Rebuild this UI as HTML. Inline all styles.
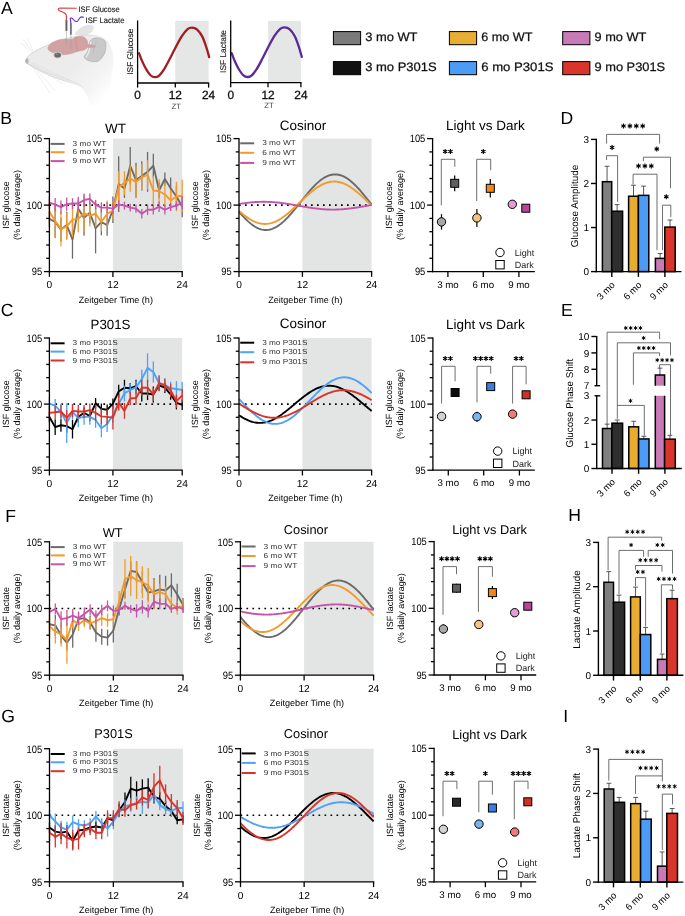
<!DOCTYPE html>
<html><head><meta charset="utf-8"><style>
html,body{margin:0;padding:0;background:#fff;}
svg{display:block;will-change:transform;font-family:"Liberation Sans", sans-serif;}
</style></head><body>
<svg width="685" height="916" viewBox="0 0 685 916" text-rendering="geometricPrecision">
<rect x="0" y="0" width="685" height="916" fill="#fff"/>
<text x="0.9" y="13.8" font-size="17.6" text-anchor="start" fill="#000" >A</text>
<text x="0.3" y="123.8" font-size="17.6" text-anchor="start" fill="#000" >B</text>
<text x="0.7" y="316" font-size="17.6" text-anchor="start" fill="#000" >C</text>
<text x="560.6" y="123.8" font-size="17.6" text-anchor="start" fill="#000" >D</text>
<text x="560.9" y="316" font-size="17.6" text-anchor="start" fill="#000" >E</text>
<text x="5.3" y="521.9" font-size="17.6" text-anchor="start" fill="#000" >F</text>
<text x="1.2" y="722.2" font-size="17.6" text-anchor="start" fill="#000" >G</text>
<text x="568.2" y="521" font-size="17.6" text-anchor="start" fill="#000" >H</text>
<text x="563.3" y="722.2" font-size="17.6" text-anchor="start" fill="#000" >I</text>
<rect x="112.91" y="138.6" width="69.29" height="133" fill="#e3e4e4" stroke="none" stroke-width="1" />
<line x1="49.4" y1="205.1" x2="182.2" y2="205.1" stroke="#000" stroke-width="1.7" stroke-dasharray="1.7 4.3"/>
<line x1="49.4" y1="210.95" x2="49.4" y2="226.91" stroke="#6b6b6b" stroke-width="1.3" />
<line x1="55.17" y1="206.03" x2="55.17" y2="237.95" stroke="#6b6b6b" stroke-width="1.3" />
<line x1="60.95" y1="217.6" x2="60.95" y2="241.54" stroke="#6b6b6b" stroke-width="1.3" />
<line x1="66.72" y1="211.75" x2="66.72" y2="238.35" stroke="#6b6b6b" stroke-width="1.3" />
<line x1="72.5" y1="220.13" x2="72.5" y2="258.7" stroke="#6b6b6b" stroke-width="1.3" />
<line x1="78.27" y1="199.38" x2="78.27" y2="218" stroke="#6b6b6b" stroke-width="1.3" />
<line x1="84.04" y1="199.91" x2="84.04" y2="235.82" stroke="#6b6b6b" stroke-width="1.3" />
<line x1="89.82" y1="202.17" x2="89.82" y2="223.45" stroke="#6b6b6b" stroke-width="1.3" />
<line x1="95.59" y1="202.84" x2="95.59" y2="253.38" stroke="#6b6b6b" stroke-width="1.3" />
<line x1="101.37" y1="208.69" x2="101.37" y2="235.29" stroke="#6b6b6b" stroke-width="1.3" />
<line x1="107.14" y1="214.41" x2="107.14" y2="235.69" stroke="#6b6b6b" stroke-width="1.3" />
<line x1="112.91" y1="196.45" x2="112.91" y2="223.05" stroke="#6b6b6b" stroke-width="1.3" />
<line x1="118.69" y1="156.16" x2="118.69" y2="212.02" stroke="#6b6b6b" stroke-width="1.3" />
<line x1="124.46" y1="179.3" x2="124.46" y2="197.92" stroke="#6b6b6b" stroke-width="1.3" />
<line x1="130.23" y1="147.11" x2="130.23" y2="184.35" stroke="#6b6b6b" stroke-width="1.3" />
<line x1="136.01" y1="162.81" x2="136.01" y2="197.39" stroke="#6b6b6b" stroke-width="1.3" />
<line x1="141.78" y1="161.34" x2="141.78" y2="190.6" stroke="#6b6b6b" stroke-width="1.3" />
<line x1="147.56" y1="151.9" x2="147.56" y2="191.8" stroke="#6b6b6b" stroke-width="1.3" />
<line x1="153.33" y1="153.76" x2="153.33" y2="177.7" stroke="#6b6b6b" stroke-width="1.3" />
<line x1="159.1" y1="182.22" x2="159.1" y2="198.18" stroke="#6b6b6b" stroke-width="1.3" />
<line x1="164.88" y1="172.38" x2="164.88" y2="185.68" stroke="#6b6b6b" stroke-width="1.3" />
<line x1="170.65" y1="177.57" x2="170.65" y2="198.85" stroke="#6b6b6b" stroke-width="1.3" />
<line x1="176.43" y1="185.81" x2="176.43" y2="207.09" stroke="#6b6b6b" stroke-width="1.3" />
<line x1="182.2" y1="196.06" x2="182.2" y2="217.34" stroke="#6b6b6b" stroke-width="1.3" />
<polyline points="49.4,218.93 55.17,221.99 60.95,229.57 66.72,225.05 72.5,239.41 78.27,208.69 84.04,217.87 89.82,212.81 95.59,228.11 101.37,221.99 107.14,225.05 112.91,209.75 118.69,184.09 124.46,188.61 130.23,165.73 136.01,180.1 141.78,175.97 147.56,171.85 153.33,165.73 159.1,190.2 164.88,179.03 170.65,188.21 176.43,196.45 182.2,206.7" fill="none" stroke="#6b6b6b" stroke-width="1.9" stroke-linejoin="round" />
<line x1="49.4" y1="201.11" x2="49.4" y2="222.39" stroke="#f39a2c" stroke-width="1.3" />
<line x1="55.17" y1="203.77" x2="55.17" y2="238.35" stroke="#f39a2c" stroke-width="1.3" />
<line x1="60.95" y1="211.75" x2="60.95" y2="246.33" stroke="#f39a2c" stroke-width="1.3" />
<line x1="66.72" y1="213.08" x2="66.72" y2="239.68" stroke="#f39a2c" stroke-width="1.3" />
<line x1="72.5" y1="202.44" x2="72.5" y2="237.02" stroke="#f39a2c" stroke-width="1.3" />
<line x1="78.27" y1="205.63" x2="78.27" y2="232.23" stroke="#f39a2c" stroke-width="1.3" />
<line x1="84.04" y1="194.46" x2="84.04" y2="231.7" stroke="#f39a2c" stroke-width="1.3" />
<line x1="89.82" y1="205.1" x2="89.82" y2="226.38" stroke="#f39a2c" stroke-width="1.3" />
<line x1="95.59" y1="200.45" x2="95.59" y2="227.05" stroke="#f39a2c" stroke-width="1.3" />
<line x1="101.37" y1="212.68" x2="101.37" y2="231.3" stroke="#f39a2c" stroke-width="1.3" />
<line x1="107.14" y1="200.45" x2="107.14" y2="227.05" stroke="#f39a2c" stroke-width="1.3" />
<line x1="112.91" y1="201.38" x2="112.91" y2="220" stroke="#f39a2c" stroke-width="1.3" />
<line x1="118.69" y1="171.19" x2="118.69" y2="203.11" stroke="#f39a2c" stroke-width="1.3" />
<line x1="124.46" y1="171.18" x2="124.46" y2="195.12" stroke="#f39a2c" stroke-width="1.3" />
<line x1="130.23" y1="165.2" x2="130.23" y2="191.8" stroke="#f39a2c" stroke-width="1.3" />
<line x1="136.01" y1="166.13" x2="136.01" y2="198.05" stroke="#f39a2c" stroke-width="1.3" />
<line x1="141.78" y1="163.87" x2="141.78" y2="190.47" stroke="#f39a2c" stroke-width="1.3" />
<line x1="147.56" y1="160.28" x2="147.56" y2="189.54" stroke="#f39a2c" stroke-width="1.3" />
<line x1="153.33" y1="175.84" x2="153.33" y2="205.1" stroke="#f39a2c" stroke-width="1.3" />
<line x1="159.1" y1="179.3" x2="159.1" y2="203.24" stroke="#f39a2c" stroke-width="1.3" />
<line x1="164.88" y1="182.49" x2="164.88" y2="206.43" stroke="#f39a2c" stroke-width="1.3" />
<line x1="170.65" y1="189.81" x2="170.65" y2="211.09" stroke="#f39a2c" stroke-width="1.3" />
<line x1="176.43" y1="181.82" x2="176.43" y2="211.08" stroke="#f39a2c" stroke-width="1.3" />
<line x1="182.2" y1="179.83" x2="182.2" y2="211.75" stroke="#f39a2c" stroke-width="1.3" />
<polyline points="49.4,211.75 55.17,221.06 60.95,229.04 66.72,226.38 72.5,219.73 78.27,218.93 84.04,213.08 89.82,215.74 95.59,213.75 101.37,221.99 107.14,213.75 112.91,210.69 118.69,187.15 124.46,183.15 130.23,178.5 136.01,182.09 141.78,177.17 147.56,174.91 153.33,190.47 159.1,191.27 164.88,194.46 170.65,200.45 176.43,196.45 182.2,195.79" fill="none" stroke="#f39a2c" stroke-width="1.9" stroke-linejoin="round" />
<line x1="49.4" y1="195.92" x2="49.4" y2="209.22" stroke="#c455a8" stroke-width="1.3" />
<line x1="55.17" y1="197.92" x2="55.17" y2="211.22" stroke="#c455a8" stroke-width="1.3" />
<line x1="60.95" y1="200.58" x2="60.95" y2="213.88" stroke="#c455a8" stroke-width="1.3" />
<line x1="66.72" y1="197.52" x2="66.72" y2="210.82" stroke="#c455a8" stroke-width="1.3" />
<line x1="72.5" y1="198.18" x2="72.5" y2="208.82" stroke="#c455a8" stroke-width="1.3" />
<line x1="78.27" y1="196.85" x2="78.27" y2="210.15" stroke="#c455a8" stroke-width="1.3" />
<line x1="84.04" y1="193.4" x2="84.04" y2="206.7" stroke="#c455a8" stroke-width="1.3" />
<line x1="89.82" y1="193.53" x2="89.82" y2="204.17" stroke="#c455a8" stroke-width="1.3" />
<line x1="95.59" y1="199.91" x2="95.59" y2="209.22" stroke="#c455a8" stroke-width="1.3" />
<line x1="101.37" y1="202.31" x2="101.37" y2="212.95" stroke="#c455a8" stroke-width="1.3" />
<line x1="107.14" y1="202.31" x2="107.14" y2="212.95" stroke="#c455a8" stroke-width="1.3" />
<line x1="112.91" y1="203.37" x2="112.91" y2="214.01" stroke="#c455a8" stroke-width="1.3" />
<line x1="118.69" y1="200.58" x2="118.69" y2="208.56" stroke="#c455a8" stroke-width="1.3" />
<line x1="124.46" y1="201.64" x2="124.46" y2="209.62" stroke="#c455a8" stroke-width="1.3" />
<line x1="130.23" y1="203.64" x2="130.23" y2="211.62" stroke="#c455a8" stroke-width="1.3" />
<line x1="136.01" y1="204.7" x2="136.01" y2="212.68" stroke="#c455a8" stroke-width="1.3" />
<line x1="141.78" y1="209.09" x2="141.78" y2="218.4" stroke="#c455a8" stroke-width="1.3" />
<line x1="147.56" y1="204.43" x2="147.56" y2="215.07" stroke="#c455a8" stroke-width="1.3" />
<line x1="153.33" y1="205.1" x2="153.33" y2="214.41" stroke="#c455a8" stroke-width="1.3" />
<line x1="159.1" y1="201.38" x2="159.1" y2="212.02" stroke="#c455a8" stroke-width="1.3" />
<line x1="164.88" y1="205.1" x2="164.88" y2="214.41" stroke="#c455a8" stroke-width="1.3" />
<line x1="170.65" y1="203.11" x2="170.65" y2="211.09" stroke="#c455a8" stroke-width="1.3" />
<line x1="176.43" y1="201.64" x2="176.43" y2="209.62" stroke="#c455a8" stroke-width="1.3" />
<line x1="182.2" y1="195.92" x2="182.2" y2="209.22" stroke="#c455a8" stroke-width="1.3" />
<polyline points="49.4,202.57 55.17,204.57 60.95,207.23 66.72,204.17 72.5,203.5 78.27,203.5 84.04,200.05 89.82,198.85 95.59,204.57 101.37,207.63 107.14,207.63 112.91,208.69 118.69,204.57 124.46,205.63 130.23,207.63 136.01,208.69 141.78,213.75 147.56,209.75 153.33,209.75 159.1,206.7 164.88,209.75 170.65,207.1 176.43,205.63 182.2,202.57" fill="none" stroke="#c455a8" stroke-width="1.9" stroke-linejoin="round" />
<line x1="49.4" y1="138" x2="49.4" y2="276.9" stroke="#000" stroke-width="1.3" />
<line x1="48.8" y1="271.6" x2="182.8" y2="271.6" stroke="#000" stroke-width="1.3" />
<line x1="43.9" y1="138.6" x2="49.4" y2="138.6" stroke="#000" stroke-width="1.3" />
<line x1="46.2" y1="151.9" x2="49.4" y2="151.9" stroke="#000" stroke-width="1.3" />
<line x1="46.2" y1="165.2" x2="49.4" y2="165.2" stroke="#000" stroke-width="1.3" />
<line x1="46.2" y1="178.5" x2="49.4" y2="178.5" stroke="#000" stroke-width="1.3" />
<line x1="46.2" y1="191.8" x2="49.4" y2="191.8" stroke="#000" stroke-width="1.3" />
<line x1="43.9" y1="205.1" x2="49.4" y2="205.1" stroke="#000" stroke-width="1.3" />
<line x1="46.2" y1="218.4" x2="49.4" y2="218.4" stroke="#000" stroke-width="1.3" />
<line x1="46.2" y1="231.7" x2="49.4" y2="231.7" stroke="#000" stroke-width="1.3" />
<line x1="46.2" y1="245" x2="49.4" y2="245" stroke="#000" stroke-width="1.3" />
<line x1="46.2" y1="258.3" x2="49.4" y2="258.3" stroke="#000" stroke-width="1.3" />
<line x1="43.9" y1="271.6" x2="49.4" y2="271.6" stroke="#000" stroke-width="1.3" />
<line x1="112.91" y1="271.6" x2="112.91" y2="276.9" stroke="#000" stroke-width="1.3" />
<line x1="182.2" y1="271.6" x2="182.2" y2="276.9" stroke="#000" stroke-width="1.3" />
<text x="42.1" y="142.4" font-size="10.6" text-anchor="end" fill="#000" textLength="15.6" lengthAdjust="spacingAndGlyphs" >105</text>
<text x="42.1" y="208.9" font-size="10.6" text-anchor="end" fill="#000" textLength="15.6" lengthAdjust="spacingAndGlyphs" >100</text>
<text x="42.1" y="275.4" font-size="10.6" text-anchor="end" fill="#000" textLength="10.4" lengthAdjust="spacingAndGlyphs" >95</text>
<text x="49.4" y="288.3" font-size="10.2" text-anchor="middle" fill="#000" >0</text>
<text x="112.91" y="288.3" font-size="10.2" text-anchor="middle" fill="#000" >12</text>
<text x="182.2" y="288.3" font-size="10.2" text-anchor="middle" fill="#000" >24</text>
<text x="115.8" y="302.6" font-size="9.1" text-anchor="middle" fill="#000" >Zeitgeber Time (h)</text>
<text x="115.5" y="132.8" font-size="13.5" text-anchor="middle" fill="#000" >WT</text>
<text x="8.8" y="205.1" font-size="9" text-anchor="middle" fill="#000" transform="rotate(-90 8.8 205.1)" >ISF glucose</text>
<text x="19.6" y="205.1" font-size="9" text-anchor="middle" fill="#000" transform="rotate(-90 19.6 205.1)" >(% daily average)</text>
<line x1="50.6" y1="143.9" x2="64.6" y2="143.9" stroke="#6b6b6b" stroke-width="2" />
<text x="72.6" y="146" font-size="7.3" text-anchor="start" fill="#333" textLength="33.7" lengthAdjust="spacingAndGlyphs" >3 mo WT</text>
<line x1="50.6" y1="152.2" x2="64.6" y2="152.2" stroke="#f39a2c" stroke-width="2" />
<text x="72.6" y="154.3" font-size="7.3" text-anchor="start" fill="#333" textLength="33.7" lengthAdjust="spacingAndGlyphs" >6 mo WT</text>
<line x1="50.6" y1="161.1" x2="64.6" y2="161.1" stroke="#c455a8" stroke-width="2" />
<text x="72.6" y="163.2" font-size="7.3" text-anchor="start" fill="#333" textLength="33.7" lengthAdjust="spacingAndGlyphs" >9 mo WT</text>
<rect x="112.91" y="338" width="69.29" height="132.2" fill="#e3e4e4" stroke="none" stroke-width="1" />
<line x1="49.4" y1="404.1" x2="182.2" y2="404.1" stroke="#000" stroke-width="1.7" stroke-dasharray="1.7 4.3"/>
<line x1="49.4" y1="411.64" x2="49.4" y2="422.21" stroke="#000000" stroke-width="1.3" />
<line x1="55.17" y1="419.17" x2="55.17" y2="435.03" stroke="#000000" stroke-width="1.3" />
<line x1="60.95" y1="418.64" x2="60.95" y2="431.86" stroke="#000000" stroke-width="1.3" />
<line x1="66.72" y1="419.57" x2="66.72" y2="432.79" stroke="#000000" stroke-width="1.3" />
<line x1="72.5" y1="419.96" x2="72.5" y2="438.47" stroke="#000000" stroke-width="1.3" />
<line x1="78.27" y1="411.64" x2="78.27" y2="422.21" stroke="#000000" stroke-width="1.3" />
<line x1="84.04" y1="407.54" x2="84.04" y2="418.11" stroke="#000000" stroke-width="1.3" />
<line x1="89.82" y1="410.71" x2="89.82" y2="421.29" stroke="#000000" stroke-width="1.3" />
<line x1="95.59" y1="398.02" x2="95.59" y2="408.59" stroke="#000000" stroke-width="1.3" />
<line x1="101.37" y1="403.57" x2="101.37" y2="414.15" stroke="#000000" stroke-width="1.3" />
<line x1="107.14" y1="404.5" x2="107.14" y2="415.07" stroke="#000000" stroke-width="1.3" />
<line x1="112.91" y1="398.42" x2="112.91" y2="408.99" stroke="#000000" stroke-width="1.3" />
<line x1="118.69" y1="384.8" x2="118.69" y2="398.02" stroke="#000000" stroke-width="1.3" />
<line x1="124.46" y1="379.78" x2="124.46" y2="395.64" stroke="#000000" stroke-width="1.3" />
<line x1="130.23" y1="382.95" x2="130.23" y2="393.52" stroke="#000000" stroke-width="1.3" />
<line x1="136.01" y1="379.64" x2="136.01" y2="392.86" stroke="#000000" stroke-width="1.3" />
<line x1="141.78" y1="385.59" x2="141.78" y2="401.46" stroke="#000000" stroke-width="1.3" />
<line x1="147.56" y1="386.91" x2="147.56" y2="400.13" stroke="#000000" stroke-width="1.3" />
<line x1="153.33" y1="386.52" x2="153.33" y2="402.38" stroke="#000000" stroke-width="1.3" />
<line x1="159.1" y1="380.04" x2="159.1" y2="390.62" stroke="#000000" stroke-width="1.3" />
<line x1="164.88" y1="382.42" x2="164.88" y2="393" stroke="#000000" stroke-width="1.3" />
<line x1="170.65" y1="389.16" x2="170.65" y2="399.74" stroke="#000000" stroke-width="1.3" />
<line x1="176.43" y1="396.17" x2="176.43" y2="409.39" stroke="#000000" stroke-width="1.3" />
<line x1="182.2" y1="399.47" x2="182.2" y2="410.05" stroke="#000000" stroke-width="1.3" />
<polyline points="49.4,416.92 55.17,427.1 60.95,425.25 66.72,426.18 72.5,429.22 78.27,416.92 84.04,412.83 89.82,416 95.59,403.31 101.37,408.86 107.14,409.78 112.91,403.7 118.69,391.41 124.46,387.71 130.23,388.24 136.01,386.25 141.78,393.52 147.56,393.52 153.33,394.45 159.1,385.33 164.88,387.71 170.65,394.45 176.43,402.78 182.2,404.76" fill="none" stroke="#000000" stroke-width="1.9" stroke-linejoin="round" />
<line x1="49.4" y1="397.09" x2="49.4" y2="410.31" stroke="#4da3f7" stroke-width="1.3" />
<line x1="55.17" y1="399.08" x2="55.17" y2="412.3" stroke="#4da3f7" stroke-width="1.3" />
<line x1="60.95" y1="403.97" x2="60.95" y2="419.83" stroke="#4da3f7" stroke-width="1.3" />
<line x1="66.72" y1="403.31" x2="66.72" y2="442.97" stroke="#4da3f7" stroke-width="1.3" />
<line x1="72.5" y1="403.97" x2="72.5" y2="419.83" stroke="#4da3f7" stroke-width="1.3" />
<line x1="78.27" y1="408.73" x2="78.27" y2="427.24" stroke="#4da3f7" stroke-width="1.3" />
<line x1="84.04" y1="408.99" x2="84.04" y2="424.86" stroke="#4da3f7" stroke-width="1.3" />
<line x1="89.82" y1="408.99" x2="89.82" y2="424.86" stroke="#4da3f7" stroke-width="1.3" />
<line x1="95.59" y1="412.03" x2="95.59" y2="427.9" stroke="#4da3f7" stroke-width="1.3" />
<line x1="101.37" y1="418.91" x2="101.37" y2="437.41" stroke="#4da3f7" stroke-width="1.3" />
<line x1="107.14" y1="416.13" x2="107.14" y2="431.99" stroke="#4da3f7" stroke-width="1.3" />
<line x1="112.91" y1="407.01" x2="112.91" y2="422.87" stroke="#4da3f7" stroke-width="1.3" />
<line x1="118.69" y1="397.09" x2="118.69" y2="410.31" stroke="#4da3f7" stroke-width="1.3" />
<line x1="124.46" y1="385.59" x2="124.46" y2="401.46" stroke="#4da3f7" stroke-width="1.3" />
<line x1="130.23" y1="383.21" x2="130.23" y2="396.43" stroke="#4da3f7" stroke-width="1.3" />
<line x1="136.01" y1="380.7" x2="136.01" y2="393.92" stroke="#4da3f7" stroke-width="1.3" />
<line x1="141.78" y1="369.86" x2="141.78" y2="388.37" stroke="#4da3f7" stroke-width="1.3" />
<line x1="147.56" y1="353.34" x2="147.56" y2="382.42" stroke="#4da3f7" stroke-width="1.3" />
<line x1="153.33" y1="361.4" x2="153.33" y2="382.55" stroke="#4da3f7" stroke-width="1.3" />
<line x1="159.1" y1="376.6" x2="159.1" y2="389.82" stroke="#4da3f7" stroke-width="1.3" />
<line x1="164.88" y1="378.32" x2="164.88" y2="391.54" stroke="#4da3f7" stroke-width="1.3" />
<line x1="170.65" y1="381.63" x2="170.65" y2="394.85" stroke="#4da3f7" stroke-width="1.3" />
<line x1="176.43" y1="381.1" x2="176.43" y2="396.96" stroke="#4da3f7" stroke-width="1.3" />
<line x1="182.2" y1="381.89" x2="182.2" y2="397.75" stroke="#4da3f7" stroke-width="1.3" />
<polyline points="49.4,403.7 55.17,405.69 60.95,411.9 66.72,423.14 72.5,411.9 78.27,417.98 84.04,416.92 89.82,416.92 95.59,419.96 101.37,428.16 107.14,424.06 112.91,414.94 118.69,403.7 124.46,393.52 130.23,389.82 136.01,387.31 141.78,379.11 147.56,367.88 153.33,371.98 159.1,383.21 164.88,384.93 170.65,388.24 176.43,389.03 182.2,389.82" fill="none" stroke="#4da3f7" stroke-width="1.9" stroke-linejoin="round" />
<line x1="49.4" y1="406.22" x2="49.4" y2="419.44" stroke="#d9342b" stroke-width="1.3" />
<line x1="55.17" y1="405.69" x2="55.17" y2="418.91" stroke="#d9342b" stroke-width="1.3" />
<line x1="60.95" y1="404.89" x2="60.95" y2="418.11" stroke="#d9342b" stroke-width="1.3" />
<line x1="66.72" y1="410.05" x2="66.72" y2="425.91" stroke="#d9342b" stroke-width="1.3" />
<line x1="72.5" y1="404.23" x2="72.5" y2="417.45" stroke="#d9342b" stroke-width="1.3" />
<line x1="78.27" y1="404.89" x2="78.27" y2="418.11" stroke="#d9342b" stroke-width="1.3" />
<line x1="84.04" y1="404.89" x2="84.04" y2="418.11" stroke="#d9342b" stroke-width="1.3" />
<line x1="89.82" y1="403.57" x2="89.82" y2="416.79" stroke="#d9342b" stroke-width="1.3" />
<line x1="95.59" y1="404.89" x2="95.59" y2="420.76" stroke="#d9342b" stroke-width="1.3" />
<line x1="101.37" y1="408.46" x2="101.37" y2="424.33" stroke="#d9342b" stroke-width="1.3" />
<line x1="107.14" y1="408.99" x2="107.14" y2="424.86" stroke="#d9342b" stroke-width="1.3" />
<line x1="112.91" y1="405.69" x2="112.91" y2="429.48" stroke="#d9342b" stroke-width="1.3" />
<line x1="118.69" y1="394.71" x2="118.69" y2="410.58" stroke="#d9342b" stroke-width="1.3" />
<line x1="124.46" y1="402.91" x2="124.46" y2="418.77" stroke="#d9342b" stroke-width="1.3" />
<line x1="130.23" y1="391.94" x2="130.23" y2="405.16" stroke="#d9342b" stroke-width="1.3" />
<line x1="136.01" y1="391.41" x2="136.01" y2="404.63" stroke="#d9342b" stroke-width="1.3" />
<line x1="141.78" y1="379.78" x2="141.78" y2="395.64" stroke="#d9342b" stroke-width="1.3" />
<line x1="147.56" y1="379.78" x2="147.56" y2="395.64" stroke="#d9342b" stroke-width="1.3" />
<line x1="153.33" y1="387.84" x2="153.33" y2="401.06" stroke="#d9342b" stroke-width="1.3" />
<line x1="159.1" y1="375.28" x2="159.1" y2="391.14" stroke="#d9342b" stroke-width="1.3" />
<line x1="164.88" y1="378.72" x2="164.88" y2="391.94" stroke="#d9342b" stroke-width="1.3" />
<line x1="170.65" y1="383.74" x2="170.65" y2="396.96" stroke="#d9342b" stroke-width="1.3" />
<line x1="176.43" y1="394.58" x2="176.43" y2="407.8" stroke="#d9342b" stroke-width="1.3" />
<line x1="182.2" y1="388.9" x2="182.2" y2="402.12" stroke="#d9342b" stroke-width="1.3" />
<polyline points="49.4,412.83 55.17,412.3 60.95,411.5 66.72,417.98 72.5,410.84 78.27,411.5 84.04,411.5 89.82,410.18 95.59,412.83 101.37,416.39 107.14,416.92 112.91,417.58 118.69,402.65 124.46,410.84 130.23,398.55 136.01,398.02 141.78,387.71 147.56,387.71 153.33,394.45 159.1,383.21 164.88,385.33 170.65,390.35 176.43,401.19 182.2,395.51" fill="none" stroke="#d9342b" stroke-width="1.9" stroke-linejoin="round" />
<line x1="49.4" y1="337.4" x2="49.4" y2="475.5" stroke="#000" stroke-width="1.3" />
<line x1="48.8" y1="470.2" x2="182.8" y2="470.2" stroke="#000" stroke-width="1.3" />
<line x1="43.9" y1="338" x2="49.4" y2="338" stroke="#000" stroke-width="1.3" />
<line x1="46.2" y1="351.22" x2="49.4" y2="351.22" stroke="#000" stroke-width="1.3" />
<line x1="46.2" y1="364.44" x2="49.4" y2="364.44" stroke="#000" stroke-width="1.3" />
<line x1="46.2" y1="377.66" x2="49.4" y2="377.66" stroke="#000" stroke-width="1.3" />
<line x1="46.2" y1="390.88" x2="49.4" y2="390.88" stroke="#000" stroke-width="1.3" />
<line x1="43.9" y1="404.1" x2="49.4" y2="404.1" stroke="#000" stroke-width="1.3" />
<line x1="46.2" y1="417.32" x2="49.4" y2="417.32" stroke="#000" stroke-width="1.3" />
<line x1="46.2" y1="430.54" x2="49.4" y2="430.54" stroke="#000" stroke-width="1.3" />
<line x1="46.2" y1="443.76" x2="49.4" y2="443.76" stroke="#000" stroke-width="1.3" />
<line x1="46.2" y1="456.98" x2="49.4" y2="456.98" stroke="#000" stroke-width="1.3" />
<line x1="43.9" y1="470.2" x2="49.4" y2="470.2" stroke="#000" stroke-width="1.3" />
<line x1="112.91" y1="470.2" x2="112.91" y2="475.5" stroke="#000" stroke-width="1.3" />
<line x1="182.2" y1="470.2" x2="182.2" y2="475.5" stroke="#000" stroke-width="1.3" />
<text x="42.1" y="341.8" font-size="10.6" text-anchor="end" fill="#000" textLength="15.6" lengthAdjust="spacingAndGlyphs" >105</text>
<text x="42.1" y="407.9" font-size="10.6" text-anchor="end" fill="#000" textLength="15.6" lengthAdjust="spacingAndGlyphs" >100</text>
<text x="42.1" y="474" font-size="10.6" text-anchor="end" fill="#000" textLength="10.4" lengthAdjust="spacingAndGlyphs" >95</text>
<text x="49.4" y="486.9" font-size="10.2" text-anchor="middle" fill="#000" >0</text>
<text x="112.91" y="486.9" font-size="10.2" text-anchor="middle" fill="#000" >12</text>
<text x="182.2" y="486.9" font-size="10.2" text-anchor="middle" fill="#000" >24</text>
<text x="115.8" y="501.2" font-size="9.1" text-anchor="middle" fill="#000" >Zeitgeber Time (h)</text>
<text x="110.5" y="328.8" font-size="13.3" text-anchor="middle" fill="#000" >P301S</text>
<text x="8.8" y="404.1" font-size="9" text-anchor="middle" fill="#000" transform="rotate(-90 8.8 404.1)" >ISF glucose</text>
<text x="19.6" y="404.1" font-size="9" text-anchor="middle" fill="#000" transform="rotate(-90 19.6 404.1)" >(% daily average)</text>
<line x1="50.6" y1="343.3" x2="64.6" y2="343.3" stroke="#000000" stroke-width="2" />
<text x="72.6" y="345.4" font-size="7.3" text-anchor="start" fill="#333" textLength="45.2" lengthAdjust="spacingAndGlyphs" >3 mo P301S</text>
<line x1="50.6" y1="351.6" x2="64.6" y2="351.6" stroke="#4da3f7" stroke-width="2" />
<text x="72.6" y="353.7" font-size="7.3" text-anchor="start" fill="#333" textLength="45.2" lengthAdjust="spacingAndGlyphs" >6 mo P301S</text>
<line x1="50.6" y1="360.5" x2="64.6" y2="360.5" stroke="#d9342b" stroke-width="2" />
<text x="72.6" y="362.6" font-size="7.3" text-anchor="start" fill="#333" textLength="45.2" lengthAdjust="spacingAndGlyphs" >9 mo P301S</text>
<rect x="113.35" y="541.8" width="69.65" height="133.4" fill="#e3e4e4" stroke="none" stroke-width="1" />
<line x1="49.5" y1="608.5" x2="183" y2="608.5" stroke="#000" stroke-width="1.7" stroke-dasharray="1.7 4.3"/>
<line x1="49.5" y1="617.57" x2="49.5" y2="630.91" stroke="#6b6b6b" stroke-width="1.3" />
<line x1="55.3" y1="614.64" x2="55.3" y2="635.98" stroke="#6b6b6b" stroke-width="1.3" />
<line x1="61.11" y1="627.58" x2="61.11" y2="643.58" stroke="#6b6b6b" stroke-width="1.3" />
<line x1="66.91" y1="634.78" x2="66.91" y2="650.79" stroke="#6b6b6b" stroke-width="1.3" />
<line x1="72.72" y1="621.17" x2="72.72" y2="647.85" stroke="#6b6b6b" stroke-width="1.3" />
<line x1="78.52" y1="612.5" x2="78.52" y2="625.84" stroke="#6b6b6b" stroke-width="1.3" />
<line x1="84.33" y1="611.43" x2="84.33" y2="624.77" stroke="#6b6b6b" stroke-width="1.3" />
<line x1="90.13" y1="615.57" x2="90.13" y2="628.91" stroke="#6b6b6b" stroke-width="1.3" />
<line x1="95.93" y1="623.17" x2="95.93" y2="641.85" stroke="#6b6b6b" stroke-width="1.3" />
<line x1="101.74" y1="628.64" x2="101.74" y2="644.65" stroke="#6b6b6b" stroke-width="1.3" />
<line x1="107.54" y1="629.58" x2="107.54" y2="645.59" stroke="#6b6b6b" stroke-width="1.3" />
<line x1="113.35" y1="618.51" x2="113.35" y2="642.52" stroke="#6b6b6b" stroke-width="1.3" />
<line x1="119.15" y1="602.23" x2="119.15" y2="615.57" stroke="#6b6b6b" stroke-width="1.3" />
<line x1="124.96" y1="581.42" x2="124.96" y2="597.43" stroke="#6b6b6b" stroke-width="1.3" />
<line x1="130.76" y1="561.54" x2="130.76" y2="580.22" stroke="#6b6b6b" stroke-width="1.3" />
<line x1="136.57" y1="561.28" x2="136.57" y2="582.62" stroke="#6b6b6b" stroke-width="1.3" />
<line x1="142.37" y1="571.55" x2="142.37" y2="592.89" stroke="#6b6b6b" stroke-width="1.3" />
<line x1="148.17" y1="584.49" x2="148.17" y2="600.5" stroke="#6b6b6b" stroke-width="1.3" />
<line x1="153.98" y1="578.08" x2="153.98" y2="604.76" stroke="#6b6b6b" stroke-width="1.3" />
<line x1="159.78" y1="574.75" x2="159.78" y2="604.1" stroke="#6b6b6b" stroke-width="1.3" />
<line x1="165.59" y1="575.82" x2="165.59" y2="605.17" stroke="#6b6b6b" stroke-width="1.3" />
<line x1="171.39" y1="573.28" x2="171.39" y2="597.29" stroke="#6b6b6b" stroke-width="1.3" />
<line x1="177.2" y1="583.82" x2="177.2" y2="605.17" stroke="#6b6b6b" stroke-width="1.3" />
<line x1="183" y1="598.09" x2="183" y2="611.43" stroke="#6b6b6b" stroke-width="1.3" />
<polyline points="49.5,624.24 55.3,625.31 61.11,635.58 66.91,642.78 72.72,634.51 78.52,619.17 84.33,618.1 90.13,622.24 95.93,632.51 101.74,636.65 107.54,637.58 113.35,630.51 119.15,608.9 124.96,589.42 130.76,570.88 136.57,571.95 142.37,582.22 148.17,592.49 153.98,591.42 159.78,589.42 165.59,590.49 171.39,585.29 177.2,594.49 183,604.76" fill="none" stroke="#6b6b6b" stroke-width="1.9" stroke-linejoin="round" />
<line x1="49.5" y1="615.7" x2="49.5" y2="637.05" stroke="#f39a2c" stroke-width="1.3" />
<line x1="55.3" y1="619.44" x2="55.3" y2="643.45" stroke="#f39a2c" stroke-width="1.3" />
<line x1="61.11" y1="622.51" x2="61.11" y2="646.52" stroke="#f39a2c" stroke-width="1.3" />
<line x1="66.91" y1="615.7" x2="66.91" y2="663.73" stroke="#f39a2c" stroke-width="1.3" />
<line x1="72.72" y1="612.24" x2="72.72" y2="628.24" stroke="#f39a2c" stroke-width="1.3" />
<line x1="78.52" y1="617.57" x2="78.52" y2="630.91" stroke="#f39a2c" stroke-width="1.3" />
<line x1="84.33" y1="613.57" x2="84.33" y2="626.91" stroke="#f39a2c" stroke-width="1.3" />
<line x1="90.13" y1="616.64" x2="90.13" y2="629.98" stroke="#f39a2c" stroke-width="1.3" />
<line x1="95.93" y1="613.17" x2="95.93" y2="629.18" stroke="#f39a2c" stroke-width="1.3" />
<line x1="101.74" y1="610.1" x2="101.74" y2="626.11" stroke="#f39a2c" stroke-width="1.3" />
<line x1="107.54" y1="613.57" x2="107.54" y2="626.91" stroke="#f39a2c" stroke-width="1.3" />
<line x1="113.35" y1="612.5" x2="113.35" y2="625.84" stroke="#f39a2c" stroke-width="1.3" />
<line x1="119.15" y1="591.02" x2="119.15" y2="612.37" stroke="#f39a2c" stroke-width="1.3" />
<line x1="124.96" y1="559.14" x2="124.96" y2="599.16" stroke="#f39a2c" stroke-width="1.3" />
<line x1="130.76" y1="556.07" x2="130.76" y2="596.09" stroke="#f39a2c" stroke-width="1.3" />
<line x1="136.57" y1="561.54" x2="136.57" y2="598.9" stroke="#f39a2c" stroke-width="1.3" />
<line x1="142.37" y1="566.21" x2="142.37" y2="598.23" stroke="#f39a2c" stroke-width="1.3" />
<line x1="148.17" y1="567.95" x2="148.17" y2="602.63" stroke="#f39a2c" stroke-width="1.3" />
<line x1="153.98" y1="579.82" x2="153.98" y2="609.17" stroke="#f39a2c" stroke-width="1.3" />
<line x1="159.78" y1="583.82" x2="159.78" y2="599.83" stroke="#f39a2c" stroke-width="1.3" />
<line x1="165.59" y1="586.49" x2="165.59" y2="602.5" stroke="#f39a2c" stroke-width="1.3" />
<line x1="171.39" y1="597.16" x2="171.39" y2="610.5" stroke="#f39a2c" stroke-width="1.3" />
<line x1="177.2" y1="601.16" x2="177.2" y2="614.5" stroke="#f39a2c" stroke-width="1.3" />
<line x1="183" y1="599.16" x2="183" y2="612.5" stroke="#f39a2c" stroke-width="1.3" />
<polyline points="49.5,626.38 55.3,631.44 61.11,634.51 66.91,639.72 72.72,620.24 78.52,624.24 84.33,620.24 90.13,623.31 95.93,621.17 101.74,618.1 107.54,620.24 113.35,619.17 119.15,601.7 124.96,579.15 130.76,576.08 136.57,580.22 142.37,582.22 148.17,585.29 153.98,594.49 159.78,591.83 165.59,594.49 171.39,603.83 177.2,607.83 183,605.83" fill="none" stroke="#f39a2c" stroke-width="1.9" stroke-linejoin="round" />
<line x1="49.5" y1="607.97" x2="49.5" y2="615.97" stroke="#c455a8" stroke-width="1.3" />
<line x1="55.3" y1="603.56" x2="55.3" y2="614.24" stroke="#c455a8" stroke-width="1.3" />
<line x1="61.11" y1="611.17" x2="61.11" y2="627.18" stroke="#c455a8" stroke-width="1.3" />
<line x1="66.91" y1="610.1" x2="66.91" y2="626.11" stroke="#c455a8" stroke-width="1.3" />
<line x1="72.72" y1="609.03" x2="72.72" y2="622.37" stroke="#c455a8" stroke-width="1.3" />
<line x1="78.52" y1="611.43" x2="78.52" y2="624.77" stroke="#c455a8" stroke-width="1.3" />
<line x1="84.33" y1="607.43" x2="84.33" y2="620.77" stroke="#c455a8" stroke-width="1.3" />
<line x1="90.13" y1="604.23" x2="90.13" y2="614.9" stroke="#c455a8" stroke-width="1.3" />
<line x1="95.93" y1="610.5" x2="95.93" y2="623.84" stroke="#c455a8" stroke-width="1.3" />
<line x1="101.74" y1="604.63" x2="101.74" y2="615.3" stroke="#c455a8" stroke-width="1.3" />
<line x1="107.54" y1="600.5" x2="107.54" y2="611.17" stroke="#c455a8" stroke-width="1.3" />
<line x1="113.35" y1="605.57" x2="113.35" y2="616.24" stroke="#c455a8" stroke-width="1.3" />
<line x1="119.15" y1="605.97" x2="119.15" y2="613.97" stroke="#c455a8" stroke-width="1.3" />
<line x1="124.96" y1="601.83" x2="124.96" y2="609.83" stroke="#c455a8" stroke-width="1.3" />
<line x1="130.76" y1="604.9" x2="130.76" y2="612.9" stroke="#c455a8" stroke-width="1.3" />
<line x1="136.57" y1="604.23" x2="136.57" y2="617.57" stroke="#c455a8" stroke-width="1.3" />
<line x1="142.37" y1="600.23" x2="142.37" y2="613.57" stroke="#c455a8" stroke-width="1.3" />
<line x1="148.17" y1="604.23" x2="148.17" y2="617.57" stroke="#c455a8" stroke-width="1.3" />
<line x1="153.98" y1="595.03" x2="153.98" y2="608.37" stroke="#c455a8" stroke-width="1.3" />
<line x1="159.78" y1="598.5" x2="159.78" y2="609.17" stroke="#c455a8" stroke-width="1.3" />
<line x1="165.59" y1="598.5" x2="165.59" y2="609.17" stroke="#c455a8" stroke-width="1.3" />
<line x1="171.39" y1="604.9" x2="171.39" y2="612.9" stroke="#c455a8" stroke-width="1.3" />
<line x1="177.2" y1="602.9" x2="177.2" y2="610.9" stroke="#c455a8" stroke-width="1.3" />
<line x1="183" y1="604.9" x2="183" y2="612.9" stroke="#c455a8" stroke-width="1.3" />
<polyline points="49.5,611.97 55.3,608.9 61.11,619.17 66.91,618.1 72.72,615.7 78.52,618.1 84.33,614.1 90.13,609.57 95.93,617.17 101.74,609.97 107.54,605.83 113.35,610.9 119.15,609.97 124.96,605.83 130.76,608.9 136.57,610.9 142.37,606.9 148.17,610.9 153.98,601.7 159.78,603.83 165.59,603.83 171.39,608.9 177.2,606.9 183,608.9" fill="none" stroke="#c455a8" stroke-width="1.9" stroke-linejoin="round" />
<line x1="49.5" y1="541.2" x2="49.5" y2="680.5" stroke="#000" stroke-width="1.3" />
<line x1="48.9" y1="675.2" x2="183.6" y2="675.2" stroke="#000" stroke-width="1.3" />
<line x1="44" y1="541.8" x2="49.5" y2="541.8" stroke="#000" stroke-width="1.3" />
<line x1="46.3" y1="555.14" x2="49.5" y2="555.14" stroke="#000" stroke-width="1.3" />
<line x1="46.3" y1="568.48" x2="49.5" y2="568.48" stroke="#000" stroke-width="1.3" />
<line x1="46.3" y1="581.82" x2="49.5" y2="581.82" stroke="#000" stroke-width="1.3" />
<line x1="46.3" y1="595.16" x2="49.5" y2="595.16" stroke="#000" stroke-width="1.3" />
<line x1="44" y1="608.5" x2="49.5" y2="608.5" stroke="#000" stroke-width="1.3" />
<line x1="46.3" y1="621.84" x2="49.5" y2="621.84" stroke="#000" stroke-width="1.3" />
<line x1="46.3" y1="635.18" x2="49.5" y2="635.18" stroke="#000" stroke-width="1.3" />
<line x1="46.3" y1="648.52" x2="49.5" y2="648.52" stroke="#000" stroke-width="1.3" />
<line x1="46.3" y1="661.86" x2="49.5" y2="661.86" stroke="#000" stroke-width="1.3" />
<line x1="44" y1="675.2" x2="49.5" y2="675.2" stroke="#000" stroke-width="1.3" />
<line x1="113.35" y1="675.2" x2="113.35" y2="680.5" stroke="#000" stroke-width="1.3" />
<line x1="183" y1="675.2" x2="183" y2="680.5" stroke="#000" stroke-width="1.3" />
<text x="42.2" y="545.6" font-size="10.6" text-anchor="end" fill="#000" textLength="15.6" lengthAdjust="spacingAndGlyphs" >105</text>
<text x="42.2" y="612.3" font-size="10.6" text-anchor="end" fill="#000" textLength="15.6" lengthAdjust="spacingAndGlyphs" >100</text>
<text x="42.2" y="679" font-size="10.6" text-anchor="end" fill="#000" textLength="10.4" lengthAdjust="spacingAndGlyphs" >95</text>
<text x="49.5" y="691.9" font-size="10.2" text-anchor="middle" fill="#000" >0</text>
<text x="113.35" y="691.9" font-size="10.2" text-anchor="middle" fill="#000" >12</text>
<text x="183" y="691.9" font-size="10.2" text-anchor="middle" fill="#000" >24</text>
<text x="116.25" y="706.2" font-size="9.1" text-anchor="middle" fill="#000" >Zeitgeber Time (h)</text>
<text x="112.7" y="536.9" font-size="12.8" text-anchor="middle" fill="#000" >WT</text>
<text x="8.9" y="608.5" font-size="9" text-anchor="middle" fill="#000" transform="rotate(-90 8.9 608.5)" >ISF lactate</text>
<text x="19.7" y="608.5" font-size="9" text-anchor="middle" fill="#000" transform="rotate(-90 19.7 608.5)" >(% daily average)</text>
<line x1="50.7" y1="547.1" x2="64.7" y2="547.1" stroke="#6b6b6b" stroke-width="2" />
<text x="72.7" y="549.2" font-size="7.3" text-anchor="start" fill="#333" textLength="33.7" lengthAdjust="spacingAndGlyphs" >3 mo WT</text>
<line x1="50.7" y1="555.4" x2="64.7" y2="555.4" stroke="#f39a2c" stroke-width="2" />
<text x="72.7" y="557.5" font-size="7.3" text-anchor="start" fill="#333" textLength="33.7" lengthAdjust="spacingAndGlyphs" >6 mo WT</text>
<line x1="50.7" y1="564.3" x2="64.7" y2="564.3" stroke="#c455a8" stroke-width="2" />
<text x="72.7" y="566.4" font-size="7.3" text-anchor="start" fill="#333" textLength="33.7" lengthAdjust="spacingAndGlyphs" >9 mo WT</text>
<rect x="113.35" y="748.7" width="69.65" height="133.1" fill="#e3e4e4" stroke="none" stroke-width="1" />
<line x1="49.5" y1="815.25" x2="183" y2="815.25" stroke="#000" stroke-width="1.7" stroke-dasharray="1.7 4.3"/>
<line x1="49.5" y1="822.17" x2="49.5" y2="832.82" stroke="#000000" stroke-width="1.3" />
<line x1="55.3" y1="824.97" x2="55.3" y2="838.28" stroke="#000000" stroke-width="1.3" />
<line x1="61.11" y1="826.03" x2="61.11" y2="839.34" stroke="#000000" stroke-width="1.3" />
<line x1="66.91" y1="824.97" x2="66.91" y2="838.28" stroke="#000000" stroke-width="1.3" />
<line x1="72.72" y1="832.82" x2="72.72" y2="848.79" stroke="#000000" stroke-width="1.3" />
<line x1="78.52" y1="825.23" x2="78.52" y2="835.88" stroke="#000000" stroke-width="1.3" />
<line x1="84.33" y1="824.3" x2="84.33" y2="834.95" stroke="#000000" stroke-width="1.3" />
<line x1="90.13" y1="822.17" x2="90.13" y2="832.82" stroke="#000000" stroke-width="1.3" />
<line x1="95.93" y1="821.24" x2="95.93" y2="831.89" stroke="#000000" stroke-width="1.3" />
<line x1="101.74" y1="822.17" x2="101.74" y2="832.82" stroke="#000000" stroke-width="1.3" />
<line x1="107.54" y1="812.99" x2="107.54" y2="823.64" stroke="#000000" stroke-width="1.3" />
<line x1="113.35" y1="814.98" x2="113.35" y2="825.63" stroke="#000000" stroke-width="1.3" />
<line x1="119.15" y1="803.54" x2="119.15" y2="816.85" stroke="#000000" stroke-width="1.3" />
<line x1="124.96" y1="792.62" x2="124.96" y2="811.26" stroke="#000000" stroke-width="1.3" />
<line x1="130.76" y1="776.65" x2="130.76" y2="800.61" stroke="#000000" stroke-width="1.3" />
<line x1="136.57" y1="781.31" x2="136.57" y2="799.94" stroke="#000000" stroke-width="1.3" />
<line x1="142.37" y1="779.31" x2="142.37" y2="797.95" stroke="#000000" stroke-width="1.3" />
<line x1="148.17" y1="778.25" x2="148.17" y2="796.88" stroke="#000000" stroke-width="1.3" />
<line x1="153.98" y1="790.23" x2="153.98" y2="803.54" stroke="#000000" stroke-width="1.3" />
<line x1="159.78" y1="792.22" x2="159.78" y2="805.53" stroke="#000000" stroke-width="1.3" />
<line x1="165.59" y1="800.74" x2="165.59" y2="811.39" stroke="#000000" stroke-width="1.3" />
<line x1="171.39" y1="805.8" x2="171.39" y2="816.45" stroke="#000000" stroke-width="1.3" />
<line x1="177.2" y1="816.31" x2="177.2" y2="824.3" stroke="#000000" stroke-width="1.3" />
<line x1="183" y1="815.38" x2="183" y2="823.37" stroke="#000000" stroke-width="1.3" />
<polyline points="49.5,827.5 55.3,831.62 61.11,832.69 66.91,831.62 72.72,840.81 78.52,830.56 84.33,829.62 90.13,827.5 95.93,826.56 101.74,827.5 107.54,818.31 113.35,820.31 119.15,810.19 124.96,801.94 130.76,788.63 136.57,790.63 142.37,788.63 148.17,787.57 153.98,796.88 159.78,798.88 165.59,806.07 171.39,811.12 177.2,820.31 183,819.38" fill="none" stroke="#000000" stroke-width="1.9" stroke-linejoin="round" />
<line x1="49.5" y1="809.93" x2="49.5" y2="820.57" stroke="#4da3f7" stroke-width="1.3" />
<line x1="55.3" y1="813.39" x2="55.3" y2="829.36" stroke="#4da3f7" stroke-width="1.3" />
<line x1="61.11" y1="820.84" x2="61.11" y2="834.15" stroke="#4da3f7" stroke-width="1.3" />
<line x1="66.91" y1="821.64" x2="66.91" y2="837.61" stroke="#4da3f7" stroke-width="1.3" />
<line x1="72.72" y1="815.38" x2="72.72" y2="828.69" stroke="#4da3f7" stroke-width="1.3" />
<line x1="78.52" y1="819.11" x2="78.52" y2="829.76" stroke="#4da3f7" stroke-width="1.3" />
<line x1="84.33" y1="820.17" x2="84.33" y2="830.82" stroke="#4da3f7" stroke-width="1.3" />
<line x1="90.13" y1="818.18" x2="90.13" y2="828.83" stroke="#4da3f7" stroke-width="1.3" />
<line x1="95.93" y1="810.99" x2="95.93" y2="821.64" stroke="#4da3f7" stroke-width="1.3" />
<line x1="101.74" y1="818.18" x2="101.74" y2="828.83" stroke="#4da3f7" stroke-width="1.3" />
<line x1="107.54" y1="820.57" x2="107.54" y2="836.55" stroke="#4da3f7" stroke-width="1.3" />
<line x1="113.35" y1="813.39" x2="113.35" y2="829.36" stroke="#4da3f7" stroke-width="1.3" />
<line x1="119.15" y1="806.86" x2="119.15" y2="817.51" stroke="#4da3f7" stroke-width="1.3" />
<line x1="124.96" y1="799.41" x2="124.96" y2="812.72" stroke="#4da3f7" stroke-width="1.3" />
<line x1="130.76" y1="798.35" x2="130.76" y2="811.66" stroke="#4da3f7" stroke-width="1.3" />
<line x1="136.57" y1="796.35" x2="136.57" y2="809.66" stroke="#4da3f7" stroke-width="1.3" />
<line x1="142.37" y1="789.96" x2="142.37" y2="813.92" stroke="#4da3f7" stroke-width="1.3" />
<line x1="148.17" y1="795.68" x2="148.17" y2="808.99" stroke="#4da3f7" stroke-width="1.3" />
<line x1="153.98" y1="786.77" x2="153.98" y2="802.74" stroke="#4da3f7" stroke-width="1.3" />
<line x1="159.78" y1="799.68" x2="159.78" y2="810.33" stroke="#4da3f7" stroke-width="1.3" />
<line x1="165.59" y1="803.8" x2="165.59" y2="814.45" stroke="#4da3f7" stroke-width="1.3" />
<line x1="171.39" y1="805.8" x2="171.39" y2="816.45" stroke="#4da3f7" stroke-width="1.3" />
<line x1="177.2" y1="801.41" x2="177.2" y2="814.72" stroke="#4da3f7" stroke-width="1.3" />
<line x1="183" y1="801.41" x2="183" y2="814.72" stroke="#4da3f7" stroke-width="1.3" />
<polyline points="49.5,815.25 55.3,821.37 61.11,827.5 66.91,829.62 72.72,822.04 78.52,824.43 84.33,825.5 90.13,823.5 95.93,816.31 101.74,823.5 107.54,828.56 113.35,821.37 119.15,812.19 124.96,806.07 130.76,805 136.57,803 142.37,801.94 148.17,802.34 153.98,794.75 159.78,805 165.59,809.13 171.39,811.12 177.2,808.06 183,808.06" fill="none" stroke="#4da3f7" stroke-width="1.9" stroke-linejoin="round" />
<line x1="49.5" y1="824.7" x2="49.5" y2="840.67" stroke="#d9342b" stroke-width="1.3" />
<line x1="55.3" y1="826.16" x2="55.3" y2="847.46" stroke="#d9342b" stroke-width="1.3" />
<line x1="61.11" y1="822.97" x2="61.11" y2="844.27" stroke="#d9342b" stroke-width="1.3" />
<line x1="66.91" y1="827.1" x2="66.91" y2="848.39" stroke="#d9342b" stroke-width="1.3" />
<line x1="72.72" y1="829.23" x2="72.72" y2="850.52" stroke="#d9342b" stroke-width="1.3" />
<line x1="78.52" y1="828.16" x2="78.52" y2="849.46" stroke="#d9342b" stroke-width="1.3" />
<line x1="84.33" y1="823.9" x2="84.33" y2="837.21" stroke="#d9342b" stroke-width="1.3" />
<line x1="90.13" y1="821.9" x2="90.13" y2="835.21" stroke="#d9342b" stroke-width="1.3" />
<line x1="95.93" y1="826.03" x2="95.93" y2="839.34" stroke="#d9342b" stroke-width="1.3" />
<line x1="101.74" y1="826.03" x2="101.74" y2="839.34" stroke="#d9342b" stroke-width="1.3" />
<line x1="107.54" y1="810.33" x2="107.54" y2="826.3" stroke="#d9342b" stroke-width="1.3" />
<line x1="113.35" y1="810.33" x2="113.35" y2="826.3" stroke="#d9342b" stroke-width="1.3" />
<line x1="119.15" y1="801.14" x2="119.15" y2="817.11" stroke="#d9342b" stroke-width="1.3" />
<line x1="124.96" y1="803.54" x2="124.96" y2="816.85" stroke="#d9342b" stroke-width="1.3" />
<line x1="130.76" y1="799.68" x2="130.76" y2="810.33" stroke="#d9342b" stroke-width="1.3" />
<line x1="136.57" y1="798.61" x2="136.57" y2="809.26" stroke="#d9342b" stroke-width="1.3" />
<line x1="142.37" y1="789.43" x2="142.37" y2="805.4" stroke="#d9342b" stroke-width="1.3" />
<line x1="148.17" y1="791.96" x2="148.17" y2="807.93" stroke="#d9342b" stroke-width="1.3" />
<line x1="153.98" y1="773.32" x2="153.98" y2="799.94" stroke="#d9342b" stroke-width="1.3" />
<line x1="159.78" y1="765.74" x2="159.78" y2="795.02" stroke="#d9342b" stroke-width="1.3" />
<line x1="165.59" y1="784.37" x2="165.59" y2="803" stroke="#d9342b" stroke-width="1.3" />
<line x1="171.39" y1="793.95" x2="171.39" y2="809.93" stroke="#d9342b" stroke-width="1.3" />
<line x1="177.2" y1="800.08" x2="177.2" y2="816.05" stroke="#d9342b" stroke-width="1.3" />
<line x1="183" y1="811.66" x2="183" y2="824.97" stroke="#d9342b" stroke-width="1.3" />
<polyline points="49.5,832.69 55.3,836.81 61.11,833.62 66.91,837.74 72.72,839.87 78.52,838.81 84.33,830.56 90.13,828.56 95.93,832.69 101.74,832.69 107.54,818.31 113.35,818.31 119.15,809.13 124.96,810.19 130.76,805 136.57,803.94 142.37,797.41 148.17,799.94 153.98,786.63 159.78,780.38 165.59,793.69 171.39,801.94 177.2,808.06 183,818.31" fill="none" stroke="#d9342b" stroke-width="1.9" stroke-linejoin="round" />
<line x1="49.5" y1="748.1" x2="49.5" y2="887.1" stroke="#000" stroke-width="1.3" />
<line x1="48.9" y1="881.8" x2="183.6" y2="881.8" stroke="#000" stroke-width="1.3" />
<line x1="44" y1="748.7" x2="49.5" y2="748.7" stroke="#000" stroke-width="1.3" />
<line x1="46.3" y1="762.01" x2="49.5" y2="762.01" stroke="#000" stroke-width="1.3" />
<line x1="46.3" y1="775.32" x2="49.5" y2="775.32" stroke="#000" stroke-width="1.3" />
<line x1="46.3" y1="788.63" x2="49.5" y2="788.63" stroke="#000" stroke-width="1.3" />
<line x1="46.3" y1="801.94" x2="49.5" y2="801.94" stroke="#000" stroke-width="1.3" />
<line x1="44" y1="815.25" x2="49.5" y2="815.25" stroke="#000" stroke-width="1.3" />
<line x1="46.3" y1="828.56" x2="49.5" y2="828.56" stroke="#000" stroke-width="1.3" />
<line x1="46.3" y1="841.87" x2="49.5" y2="841.87" stroke="#000" stroke-width="1.3" />
<line x1="46.3" y1="855.18" x2="49.5" y2="855.18" stroke="#000" stroke-width="1.3" />
<line x1="46.3" y1="868.49" x2="49.5" y2="868.49" stroke="#000" stroke-width="1.3" />
<line x1="44" y1="881.8" x2="49.5" y2="881.8" stroke="#000" stroke-width="1.3" />
<line x1="113.35" y1="881.8" x2="113.35" y2="887.1" stroke="#000" stroke-width="1.3" />
<line x1="183" y1="881.8" x2="183" y2="887.1" stroke="#000" stroke-width="1.3" />
<text x="42.2" y="752.5" font-size="10.6" text-anchor="end" fill="#000" textLength="15.6" lengthAdjust="spacingAndGlyphs" >105</text>
<text x="42.2" y="819.05" font-size="10.6" text-anchor="end" fill="#000" textLength="15.6" lengthAdjust="spacingAndGlyphs" >100</text>
<text x="42.2" y="885.6" font-size="10.6" text-anchor="end" fill="#000" textLength="10.4" lengthAdjust="spacingAndGlyphs" >95</text>
<text x="49.5" y="898.5" font-size="10.2" text-anchor="middle" fill="#000" >0</text>
<text x="113.35" y="898.5" font-size="10.2" text-anchor="middle" fill="#000" >12</text>
<text x="183" y="898.5" font-size="10.2" text-anchor="middle" fill="#000" >24</text>
<text x="116.25" y="912.8" font-size="9.1" text-anchor="middle" fill="#000" >Zeitgeber Time (h)</text>
<text x="113.5" y="738" font-size="12.8" text-anchor="middle" fill="#000" >P301S</text>
<text x="8.9" y="815.25" font-size="9" text-anchor="middle" fill="#000" transform="rotate(-90 8.9 815.25)" >ISF lactate</text>
<text x="19.7" y="815.25" font-size="9" text-anchor="middle" fill="#000" transform="rotate(-90 19.7 815.25)" >(% daily average)</text>
<line x1="50.7" y1="754" x2="64.7" y2="754" stroke="#000000" stroke-width="2" />
<text x="72.7" y="756.1" font-size="7.3" text-anchor="start" fill="#333" textLength="45.2" lengthAdjust="spacingAndGlyphs" >3 mo P301S</text>
<line x1="50.7" y1="762.3" x2="64.7" y2="762.3" stroke="#4da3f7" stroke-width="2" />
<text x="72.7" y="764.4" font-size="7.3" text-anchor="start" fill="#333" textLength="45.2" lengthAdjust="spacingAndGlyphs" >6 mo P301S</text>
<line x1="50.7" y1="771.2" x2="64.7" y2="771.2" stroke="#d9342b" stroke-width="2" />
<text x="72.7" y="773.3" font-size="7.3" text-anchor="start" fill="#333" textLength="45.2" lengthAdjust="spacingAndGlyphs" >9 mo P301S</text>
<rect x="302.42" y="138.6" width="69.18" height="133" fill="#e3e4e4" stroke="none" stroke-width="1" />
<line x1="239" y1="205.1" x2="371.6" y2="205.1" stroke="#000" stroke-width="1.7" stroke-dasharray="1.7 4.3"/>
<polyline points="239,211.69 240.1,212.99 241.21,214.26 242.31,215.5 243.42,216.71 244.53,217.88 245.63,219.01 246.74,220.1 247.84,221.15 248.94,222.14 250.05,223.09 251.16,223.98 252.26,224.82 253.37,225.6 254.47,226.33 255.57,226.99 256.68,227.59 257.79,228.13 258.89,228.6 260,229 261.1,229.34 262.2,229.61 263.31,229.81 264.42,229.94 265.52,230 266.62,229.99 267.73,229.91 268.83,229.76 269.94,229.54 271.05,229.25 272.15,228.89 273.25,228.47 274.36,227.98 275.47,227.43 276.57,226.81 277.68,226.13 278.78,225.39 279.88,224.59 280.99,223.74 282.1,222.83 283.2,221.87 284.31,220.86 285.41,219.8 286.51,218.7 287.62,217.56 288.73,216.38 289.83,215.16 290.94,213.91 292.04,212.63 293.14,211.32 294.25,210 295.36,208.65 296.46,207.28 297.56,205.91 298.67,204.52 299.77,203.13 300.88,201.73 301.99,200.34 303.09,198.95 304.19,197.57 305.3,196.2 306.41,194.85 307.51,193.51 308.62,192.2 309.72,190.91 310.83,189.65 311.93,188.42 313.04,187.23 314.14,186.07 315.25,184.95 316.35,183.88 317.46,182.86 318.56,181.88 319.67,180.95 320.77,180.08 321.88,179.26 322.98,178.51 324.09,177.81 325.19,177.17 326.3,176.59 327.4,176.08 328.5,175.64 329.61,175.26 330.72,174.95 331.82,174.71 332.93,174.54 334.03,174.43 335.13,174.4 336.24,174.44 337.35,174.54 338.45,174.72 339.56,174.97 340.66,175.28 341.77,175.66 342.87,176.11 343.98,176.63 345.08,177.21 346.19,177.85 347.29,178.55 348.39,179.31 349.5,180.13 350.61,181.01 351.71,181.94 352.82,182.92 353.92,183.95 355.03,185.02 356.13,186.14 357.24,187.3 358.34,188.5 359.45,189.73 360.55,190.99 361.66,192.28 362.76,193.59 363.87,194.93 364.97,196.29 366.08,197.66 367.18,199.04 368.29,200.43 369.39,201.82 370.5,203.21 371.6,204.61" fill="none" stroke="#6b6b6b" stroke-width="1.9" stroke-linejoin="round" />
<polyline points="239,210.89 240.1,211.86 241.21,212.81 242.31,213.73 243.42,214.63 244.53,215.49 245.63,216.33 246.74,217.13 247.84,217.89 248.94,218.61 250.05,219.3 251.16,219.94 252.26,220.54 253.37,221.1 254.47,221.61 255.57,222.07 256.68,222.48 257.79,222.85 258.89,223.16 260,223.42 261.1,223.63 262.2,223.79 263.31,223.89 264.42,223.94 265.52,223.94 266.62,223.89 267.73,223.78 268.83,223.62 269.94,223.4 271.05,223.13 272.15,222.82 273.25,222.45 274.36,222.03 275.47,221.56 276.57,221.05 277.68,220.49 278.78,219.89 279.88,219.24 280.99,218.55 282.1,217.82 283.2,217.05 284.31,216.25 285.41,215.41 286.51,214.55 287.62,213.65 288.73,212.72 289.83,211.77 290.94,210.8 292.04,209.8 293.14,208.79 294.25,207.76 295.36,206.73 296.46,205.68 297.56,204.62 298.67,203.56 299.77,202.49 300.88,201.43 301.99,200.37 303.09,199.32 304.19,198.27 305.3,197.24 306.41,196.22 307.51,195.22 308.62,194.23 309.72,193.27 310.83,192.33 311.93,191.42 313.04,190.53 314.14,189.68 315.25,188.86 316.35,188.07 317.46,187.32 318.56,186.61 319.67,185.94 320.77,185.32 321.88,184.73 322.98,184.2 324.09,183.7 325.19,183.26 326.3,182.87 327.4,182.52 328.5,182.23 329.61,181.99 330.72,181.8 331.82,181.66 332.93,181.58 334.03,181.55 335.13,181.57 336.24,181.65 337.35,181.78 338.45,181.96 339.56,182.2 340.66,182.48 341.77,182.82 342.87,183.21 343.98,183.65 345.08,184.13 346.19,184.66 347.29,185.24 348.39,185.86 349.5,186.53 350.61,187.23 351.71,187.97 352.82,188.76 353.92,189.57 355.03,190.42 356.13,191.3 357.24,192.21 358.34,193.15 359.45,194.11 360.55,195.09 361.66,196.09 362.76,197.11 363.87,198.14 364.97,199.18 366.08,200.24 367.18,201.3 368.29,202.36 369.39,203.42 370.5,204.48 371.6,205.54" fill="none" stroke="#f39a2c" stroke-width="1.9" stroke-linejoin="round" />
<polyline points="239,204.01 240.1,203.84 241.21,203.67 242.31,203.5 243.42,203.34 244.53,203.19 245.63,203.04 246.74,202.9 247.84,202.77 248.94,202.65 250.05,202.53 251.16,202.42 252.26,202.32 253.37,202.22 254.47,202.14 255.57,202.06 256.68,202 257.79,201.94 258.89,201.89 260,201.86 261.1,201.83 262.2,201.81 263.31,201.8 264.42,201.8 265.52,201.81 266.62,201.83 267.73,201.86 268.83,201.9 269.94,201.95 271.05,202.01 272.15,202.08 273.25,202.16 274.36,202.25 275.47,202.34 276.57,202.45 277.68,202.56 278.78,202.68 279.88,202.8 280.99,202.94 282.1,203.08 283.2,203.23 284.31,203.38 285.41,203.54 286.51,203.71 287.62,203.88 288.73,204.06 289.83,204.24 290.94,204.42 292.04,204.6 293.14,204.79 294.25,204.99 295.36,205.18 296.46,205.37 297.56,205.57 298.67,205.76 299.77,205.96 300.88,206.15 301.99,206.35 303.09,206.54 304.19,206.73 305.3,206.92 306.41,207.1 307.51,207.28 308.62,207.46 309.72,207.63 310.83,207.8 311.93,207.96 313.04,208.12 314.14,208.27 315.25,208.41 316.35,208.55 317.46,208.68 318.56,208.8 319.67,208.92 320.77,209.02 321.88,209.12 322.98,209.21 324.09,209.29 325.19,209.36 326.3,209.43 327.4,209.48 328.5,209.52 329.61,209.56 330.72,209.58 331.82,209.6 332.93,209.6 334.03,209.59 335.13,209.58 336.24,209.56 337.35,209.52 338.45,209.48 339.56,209.42 340.66,209.36 341.77,209.29 342.87,209.21 343.98,209.12 345.08,209.02 346.19,208.91 347.29,208.8 348.39,208.67 349.5,208.54 350.61,208.41 351.71,208.26 352.82,208.11 353.92,207.95 355.03,207.79 356.13,207.62 357.24,207.45 358.34,207.27 359.45,207.09 360.55,206.91 361.66,206.72 362.76,206.53 363.87,206.34 364.97,206.15 366.08,205.95 367.18,205.76 368.29,205.56 369.39,205.36 370.5,205.17 371.6,204.98" fill="none" stroke="#c455a8" stroke-width="1.9" stroke-linejoin="round" />
<line x1="239" y1="138" x2="239" y2="276.9" stroke="#000" stroke-width="1.3" />
<line x1="238.4" y1="271.6" x2="372.2" y2="271.6" stroke="#000" stroke-width="1.3" />
<line x1="233.5" y1="138.6" x2="239" y2="138.6" stroke="#000" stroke-width="1.3" />
<line x1="235.8" y1="151.9" x2="239" y2="151.9" stroke="#000" stroke-width="1.3" />
<line x1="235.8" y1="165.2" x2="239" y2="165.2" stroke="#000" stroke-width="1.3" />
<line x1="235.8" y1="178.5" x2="239" y2="178.5" stroke="#000" stroke-width="1.3" />
<line x1="235.8" y1="191.8" x2="239" y2="191.8" stroke="#000" stroke-width="1.3" />
<line x1="233.5" y1="205.1" x2="239" y2="205.1" stroke="#000" stroke-width="1.3" />
<line x1="235.8" y1="218.4" x2="239" y2="218.4" stroke="#000" stroke-width="1.3" />
<line x1="235.8" y1="231.7" x2="239" y2="231.7" stroke="#000" stroke-width="1.3" />
<line x1="235.8" y1="245" x2="239" y2="245" stroke="#000" stroke-width="1.3" />
<line x1="235.8" y1="258.3" x2="239" y2="258.3" stroke="#000" stroke-width="1.3" />
<line x1="233.5" y1="271.6" x2="239" y2="271.6" stroke="#000" stroke-width="1.3" />
<line x1="302.42" y1="271.6" x2="302.42" y2="276.9" stroke="#000" stroke-width="1.3" />
<line x1="371.6" y1="271.6" x2="371.6" y2="276.9" stroke="#000" stroke-width="1.3" />
<text x="231.7" y="142.4" font-size="10.6" text-anchor="end" fill="#000" textLength="15.6" lengthAdjust="spacingAndGlyphs" >105</text>
<text x="231.7" y="208.9" font-size="10.6" text-anchor="end" fill="#000" textLength="15.6" lengthAdjust="spacingAndGlyphs" >100</text>
<text x="231.7" y="275.4" font-size="10.6" text-anchor="end" fill="#000" textLength="10.4" lengthAdjust="spacingAndGlyphs" >95</text>
<text x="239" y="288.3" font-size="10.2" text-anchor="middle" fill="#000" >0</text>
<text x="302.42" y="288.3" font-size="10.2" text-anchor="middle" fill="#000" >12</text>
<text x="371.6" y="288.3" font-size="10.2" text-anchor="middle" fill="#000" >24</text>
<text x="305.3" y="302.6" font-size="9.1" text-anchor="middle" fill="#000" >Zeitgeber Time (h)</text>
<text x="303" y="129.8" font-size="13.5" text-anchor="middle" fill="#000" >Cosinor</text>
<text x="198.4" y="205.1" font-size="9" text-anchor="middle" fill="#000" transform="rotate(-90 198.4 205.1)" >ISF glucose</text>
<text x="209.2" y="205.1" font-size="9" text-anchor="middle" fill="#000" transform="rotate(-90 209.2 205.1)" >(% daily average)</text>
<line x1="240.2" y1="143.3" x2="254.2" y2="143.3" stroke="#6b6b6b" stroke-width="2" />
<text x="262.2" y="145.4" font-size="7.3" text-anchor="start" fill="#333" textLength="33.7" lengthAdjust="spacingAndGlyphs" >3 mo WT</text>
<line x1="240.2" y1="152.8" x2="254.2" y2="152.8" stroke="#f39a2c" stroke-width="2" />
<text x="262.2" y="154.9" font-size="7.3" text-anchor="start" fill="#333" textLength="33.7" lengthAdjust="spacingAndGlyphs" >6 mo WT</text>
<line x1="240.2" y1="162.9" x2="254.2" y2="162.9" stroke="#c455a8" stroke-width="2" />
<text x="262.2" y="165" font-size="7.3" text-anchor="start" fill="#333" textLength="33.7" lengthAdjust="spacingAndGlyphs" >9 mo WT</text>
<rect x="302.42" y="338" width="69.18" height="132.2" fill="#e3e4e4" stroke="none" stroke-width="1" />
<line x1="239" y1="404.1" x2="371.6" y2="404.1" stroke="#000" stroke-width="1.7" stroke-dasharray="1.7 4.3"/>
<polyline points="239,415.19 240.1,415.93 241.21,416.65 242.31,417.33 243.42,417.98 244.53,418.59 245.63,419.17 246.74,419.71 247.84,420.22 248.94,420.68 250.05,421.1 251.16,421.48 252.26,421.82 253.37,422.11 254.47,422.35 255.57,422.56 256.68,422.71 257.79,422.82 258.89,422.88 260,422.9 261.1,422.87 262.2,422.79 263.31,422.67 264.42,422.5 265.52,422.28 266.62,422.02 267.73,421.71 268.83,421.36 269.94,420.97 271.05,420.53 272.15,420.06 273.25,419.54 274.36,418.99 275.47,418.4 276.57,417.77 277.68,417.11 278.78,416.42 279.88,415.7 280.99,414.95 282.1,414.17 283.2,413.36 284.31,412.54 285.41,411.69 286.51,410.83 287.62,409.94 288.73,409.05 289.83,408.14 290.94,407.22 292.04,406.3 293.14,405.37 294.25,404.43 295.36,403.5 296.46,402.57 297.56,401.64 298.67,400.72 299.77,399.81 300.88,398.91 301.99,398.03 303.09,397.16 304.19,396.3 305.3,395.47 306.41,394.66 307.51,393.88 308.62,393.12 309.72,392.38 310.83,391.68 311.93,391.01 313.04,390.38 314.14,389.78 315.25,389.21 316.35,388.69 317.46,388.2 318.56,387.75 319.67,387.35 320.77,386.98 321.88,386.67 322.98,386.39 324.09,386.16 325.19,385.98 326.3,385.84 327.4,385.75 328.5,385.7 329.61,385.71 330.72,385.76 331.82,385.85 332.93,385.99 334.03,386.18 335.13,386.42 336.24,386.7 337.35,387.02 338.45,387.39 339.56,387.8 340.66,388.25 341.77,388.74 342.87,389.27 343.98,389.84 345.08,390.44 346.19,391.08 347.29,391.75 348.39,392.46 349.5,393.19 350.61,393.96 351.71,394.74 352.82,395.56 353.92,396.39 355.03,397.25 356.13,398.12 357.24,399.01 358.34,399.91 359.45,400.82 360.55,401.74 361.66,402.67 362.76,403.6 363.87,404.53 364.97,405.46 366.08,406.39 367.18,407.32 368.29,408.23 369.39,409.14 370.5,410.04 371.6,410.92" fill="none" stroke="#000000" stroke-width="1.9" stroke-linejoin="round" />
<polyline points="239,398.99 240.1,400.15 241.21,401.32 242.31,402.49 243.42,403.65 244.53,404.81 245.63,405.95 246.74,407.08 247.84,408.2 248.94,409.29 250.05,410.37 251.16,411.41 252.26,412.44 253.37,413.43 254.47,414.39 255.57,415.31 256.68,416.2 257.79,417.05 258.89,417.86 260,418.62 261.1,419.34 262.2,420.01 263.31,420.63 264.42,421.2 265.52,421.72 266.62,422.19 267.73,422.6 268.83,422.96 269.94,423.26 271.05,423.5 272.15,423.69 273.25,423.82 274.36,423.89 275.47,423.9 276.57,423.85 277.68,423.74 278.78,423.58 279.88,423.36 280.99,423.08 282.1,422.74 283.2,422.35 284.31,421.9 285.41,421.4 286.51,420.85 287.62,420.24 288.73,419.59 289.83,418.89 290.94,418.14 292.04,417.35 293.14,416.52 294.25,415.65 295.36,414.73 296.46,413.79 297.56,412.81 298.67,411.8 299.77,410.76 300.88,409.69 301.99,408.61 303.09,407.5 304.19,406.37 305.3,405.23 306.41,404.08 307.51,402.92 308.62,401.76 309.72,400.59 310.83,399.42 311.93,398.25 313.04,397.09 314.14,395.94 315.25,394.8 316.35,393.68 317.46,392.57 318.56,391.48 319.67,390.42 320.77,389.38 321.88,388.37 322.98,387.39 324.09,386.45 325.19,385.54 326.3,384.66 327.4,383.83 328.5,383.04 329.61,382.29 330.72,381.59 331.82,380.94 332.93,380.34 334.03,379.79 335.13,379.29 336.24,378.84 337.35,378.45 338.45,378.12 339.56,377.84 340.66,377.62 341.77,377.45 342.87,377.35 343.98,377.3 345.08,377.31 346.19,377.39 347.29,377.51 348.39,377.7 349.5,377.95 350.61,378.25 351.71,378.61 352.82,379.02 353.92,379.49 355.03,380.01 356.13,380.58 357.24,381.21 358.34,381.88 359.45,382.6 360.55,383.36 361.66,384.17 362.76,385.02 363.87,385.91 364.97,386.83 366.08,387.79 367.18,388.78 368.29,389.81 369.39,390.86 370.5,391.93 371.6,393.03" fill="none" stroke="#4da3f7" stroke-width="1.9" stroke-linejoin="round" />
<polyline points="239,403.67 240.1,404.36 241.21,405.05 242.31,405.74 243.42,406.43 244.53,407.11 245.63,407.78 246.74,408.44 247.84,409.09 248.94,409.72 250.05,410.35 251.16,410.95 252.26,411.54 253.37,412.11 254.47,412.66 255.57,413.19 256.68,413.7 257.79,414.18 258.89,414.63 260,415.06 261.1,415.46 262.2,415.83 263.31,416.17 264.42,416.48 265.52,416.76 266.62,417.01 267.73,417.22 268.83,417.4 269.94,417.55 271.05,417.67 272.15,417.74 273.25,417.79 274.36,417.8 275.47,417.77 276.57,417.71 277.68,417.62 278.78,417.49 279.88,417.33 280.99,417.13 282.1,416.9 283.2,416.64 284.31,416.35 285.41,416.02 286.51,415.67 287.62,415.29 288.73,414.87 289.83,414.43 290.94,413.97 292.04,413.48 293.14,412.96 294.25,412.42 295.36,411.86 296.46,411.29 297.56,410.69 298.67,410.08 299.77,409.45 300.88,408.8 301.99,408.15 303.09,407.48 304.19,406.81 305.3,406.13 306.41,405.44 307.51,404.75 308.62,404.06 309.72,403.37 310.83,402.68 311.93,401.99 313.04,401.31 314.14,400.63 315.25,399.96 316.35,399.31 317.46,398.66 318.56,398.03 319.67,397.41 320.77,396.81 321.88,396.23 322.98,395.67 324.09,395.13 325.19,394.61 326.3,394.11 327.4,393.64 328.5,393.2 329.61,392.78 330.72,392.39 331.82,392.03 332.93,391.7 334.03,391.4 335.13,391.14 336.24,390.9 337.35,390.7 338.45,390.53 339.56,390.4 340.66,390.3 341.77,390.23 342.87,390.2 343.98,390.21 345.08,390.25 346.19,390.32 347.29,390.43 348.39,390.57 349.5,390.74 350.61,390.95 351.71,391.19 352.82,391.47 353.92,391.77 355.03,392.11 356.13,392.48 357.24,392.87 358.34,393.3 359.45,393.75 360.55,394.22 361.66,394.72 362.76,395.25 363.87,395.79 364.97,396.36 366.08,396.95 367.18,397.55 368.29,398.17 369.39,398.8 370.5,399.45 371.6,400.11" fill="none" stroke="#d9342b" stroke-width="1.9" stroke-linejoin="round" />
<line x1="239" y1="337.4" x2="239" y2="475.5" stroke="#000" stroke-width="1.3" />
<line x1="238.4" y1="470.2" x2="372.2" y2="470.2" stroke="#000" stroke-width="1.3" />
<line x1="233.5" y1="338" x2="239" y2="338" stroke="#000" stroke-width="1.3" />
<line x1="235.8" y1="351.22" x2="239" y2="351.22" stroke="#000" stroke-width="1.3" />
<line x1="235.8" y1="364.44" x2="239" y2="364.44" stroke="#000" stroke-width="1.3" />
<line x1="235.8" y1="377.66" x2="239" y2="377.66" stroke="#000" stroke-width="1.3" />
<line x1="235.8" y1="390.88" x2="239" y2="390.88" stroke="#000" stroke-width="1.3" />
<line x1="233.5" y1="404.1" x2="239" y2="404.1" stroke="#000" stroke-width="1.3" />
<line x1="235.8" y1="417.32" x2="239" y2="417.32" stroke="#000" stroke-width="1.3" />
<line x1="235.8" y1="430.54" x2="239" y2="430.54" stroke="#000" stroke-width="1.3" />
<line x1="235.8" y1="443.76" x2="239" y2="443.76" stroke="#000" stroke-width="1.3" />
<line x1="235.8" y1="456.98" x2="239" y2="456.98" stroke="#000" stroke-width="1.3" />
<line x1="233.5" y1="470.2" x2="239" y2="470.2" stroke="#000" stroke-width="1.3" />
<line x1="302.42" y1="470.2" x2="302.42" y2="475.5" stroke="#000" stroke-width="1.3" />
<line x1="371.6" y1="470.2" x2="371.6" y2="475.5" stroke="#000" stroke-width="1.3" />
<text x="231.7" y="341.8" font-size="10.6" text-anchor="end" fill="#000" textLength="15.6" lengthAdjust="spacingAndGlyphs" >105</text>
<text x="231.7" y="407.9" font-size="10.6" text-anchor="end" fill="#000" textLength="15.6" lengthAdjust="spacingAndGlyphs" >100</text>
<text x="231.7" y="474" font-size="10.6" text-anchor="end" fill="#000" textLength="10.4" lengthAdjust="spacingAndGlyphs" >95</text>
<text x="239" y="486.9" font-size="10.2" text-anchor="middle" fill="#000" >0</text>
<text x="302.42" y="486.9" font-size="10.2" text-anchor="middle" fill="#000" >12</text>
<text x="371.6" y="486.9" font-size="10.2" text-anchor="middle" fill="#000" >24</text>
<text x="305.3" y="501.2" font-size="9.1" text-anchor="middle" fill="#000" >Zeitgeber Time (h)</text>
<text x="303" y="328" font-size="13.5" text-anchor="middle" fill="#000" >Cosinor</text>
<text x="198.4" y="404.1" font-size="9" text-anchor="middle" fill="#000" transform="rotate(-90 198.4 404.1)" >ISF glucose</text>
<text x="209.2" y="404.1" font-size="9" text-anchor="middle" fill="#000" transform="rotate(-90 209.2 404.1)" >(% daily average)</text>
<line x1="240.2" y1="342.7" x2="254.2" y2="342.7" stroke="#000000" stroke-width="2" />
<text x="262.2" y="344.8" font-size="7.3" text-anchor="start" fill="#333" textLength="45.2" lengthAdjust="spacingAndGlyphs" >3 mo P301S</text>
<line x1="240.2" y1="352.2" x2="254.2" y2="352.2" stroke="#4da3f7" stroke-width="2" />
<text x="262.2" y="354.3" font-size="7.3" text-anchor="start" fill="#333" textLength="45.2" lengthAdjust="spacingAndGlyphs" >6 mo P301S</text>
<line x1="240.2" y1="362.3" x2="254.2" y2="362.3" stroke="#d9342b" stroke-width="2" />
<text x="262.2" y="364.4" font-size="7.3" text-anchor="start" fill="#333" textLength="45.2" lengthAdjust="spacingAndGlyphs" >9 mo P301S</text>
<rect x="304.1" y="541.8" width="69.5" height="133.4" fill="#e3e4e4" stroke="none" stroke-width="1" />
<line x1="240.4" y1="608.5" x2="373.6" y2="608.5" stroke="#000" stroke-width="1.7" stroke-dasharray="1.7 4.3"/>
<polyline points="240.4,616.93 241.51,618.28 242.62,619.6 243.73,620.9 244.84,622.17 245.95,623.4 247.06,624.6 248.17,625.76 249.28,626.87 250.39,627.94 251.5,628.96 252.61,629.93 253.72,630.85 254.83,631.71 255.94,632.52 257.05,633.26 258.16,633.95 259.27,634.57 260.38,635.12 261.49,635.61 262.6,636.03 263.71,636.38 264.82,636.66 265.93,636.88 267.04,637.02 268.15,637.09 269.26,637.09 270.37,637.02 271.48,636.88 272.59,636.66 273.7,636.38 274.81,636.03 275.92,635.61 277.03,635.12 278.14,634.56 279.25,633.94 280.36,633.26 281.47,632.52 282.58,631.71 283.69,630.85 284.8,629.93 285.91,628.96 287.02,627.94 288.13,626.87 289.24,625.76 290.35,624.6 291.46,623.4 292.57,622.17 293.68,620.9 294.79,619.6 295.9,618.28 297.01,616.93 298.12,615.56 299.23,614.17 300.34,612.77 301.45,611.36 302.56,609.94 303.67,608.52 304.78,607.1 305.89,605.69 307,604.28 308.11,602.89 309.22,601.5 310.33,600.14 311.44,598.8 312.55,597.49 313.66,596.2 314.77,594.94 315.88,593.72 316.99,592.54 318.1,591.4 319.21,590.3 320.32,589.25 321.43,588.25 322.54,587.3 323.65,586.4 324.76,585.56 325.87,584.78 326.98,584.06 328.09,583.4 329.2,582.81 330.31,582.28 331.42,581.82 332.53,581.42 333.64,581.1 334.75,580.84 335.86,580.66 336.97,580.54 338.08,580.5 339.19,580.53 340.3,580.63 341.41,580.8 342.52,581.04 343.63,581.35 344.74,581.73 345.85,582.18 346.96,582.69 348.07,583.27 349.18,583.92 350.29,584.62 351.4,585.39 352.51,586.22 353.62,587.1 354.73,588.04 355.84,589.03 356.95,590.07 358.06,591.16 359.17,592.29 360.28,593.47 361.39,594.68 362.5,595.93 363.61,597.21 364.72,598.52 365.83,599.85 366.94,601.21 368.05,602.59 369.16,603.98 370.27,605.38 371.38,606.8 372.49,608.21 373.6,609.63" fill="none" stroke="#6b6b6b" stroke-width="1.9" stroke-linejoin="round" />
<polyline points="240.4,621.12 241.51,622.1 242.62,623.05 243.73,623.95 244.84,624.82 245.95,625.65 247.06,626.43 248.17,627.17 249.28,627.86 250.39,628.51 251.5,629.1 252.61,629.64 253.72,630.13 254.83,630.56 255.94,630.94 257.05,631.26 258.16,631.53 259.27,631.73 260.38,631.88 261.49,631.97 262.6,632 263.71,631.97 264.82,631.88 265.93,631.73 267.04,631.53 268.15,631.27 269.26,630.94 270.37,630.57 271.48,630.13 272.59,629.65 273.7,629.11 274.81,628.51 275.92,627.87 277.03,627.18 278.14,626.44 279.25,625.65 280.36,624.83 281.47,623.96 282.58,623.05 283.69,622.11 284.8,621.13 285.91,620.12 287.02,619.08 288.13,618.02 289.24,616.93 290.35,615.82 291.46,614.69 292.57,613.54 293.68,612.38 294.79,611.22 295.9,610.04 297.01,608.86 298.12,607.68 299.23,606.51 300.34,605.34 301.45,604.17 302.56,603.02 303.67,601.88 304.78,600.76 305.89,599.65 307,598.57 308.11,597.52 309.22,596.49 310.33,595.49 311.44,594.53 312.55,593.6 313.66,592.7 314.77,591.85 315.88,591.04 316.99,590.27 318.1,589.55 319.21,588.88 320.32,588.25 321.43,587.68 322.54,587.16 323.65,586.69 324.76,586.28 325.87,585.93 326.98,585.63 328.09,585.39 329.2,585.2 330.31,585.08 331.42,585.01 332.53,585 333.64,585.06 334.75,585.17 335.86,585.34 336.97,585.57 338.08,585.85 339.19,586.2 340.3,586.6 341.41,587.05 342.52,587.56 343.63,588.12 344.74,588.73 345.85,589.4 346.96,590.11 348.07,590.86 349.18,591.66 350.29,592.51 351.4,593.39 352.51,594.31 353.62,595.27 354.73,596.26 355.84,597.28 356.95,598.33 358.06,599.41 359.17,600.51 360.28,601.62 361.39,602.76 362.5,603.91 363.61,605.07 364.72,606.24 365.83,607.42 366.94,608.6 368.05,609.78 369.16,610.95 370.27,612.12 371.38,613.28 372.49,614.43 373.6,615.56" fill="none" stroke="#f39a2c" stroke-width="1.9" stroke-linejoin="round" />
<polyline points="240.4,611.4 241.51,611.63 242.62,611.86 243.73,612.09 244.84,612.31 245.95,612.52 247.06,612.72 248.17,612.91 249.28,613.1 250.39,613.27 251.5,613.44 252.61,613.6 253.72,613.75 254.83,613.88 255.94,614.01 257.05,614.12 258.16,614.22 259.27,614.31 260.38,614.39 261.49,614.46 262.6,614.51 263.71,614.55 264.82,614.58 265.93,614.6 267.04,614.6 268.15,614.59 269.26,614.57 270.37,614.53 271.48,614.48 272.59,614.42 273.7,614.35 274.81,614.26 275.92,614.16 277.03,614.05 278.14,613.93 279.25,613.8 280.36,613.66 281.47,613.51 282.58,613.34 283.69,613.17 284.8,612.99 285.91,612.8 287.02,612.6 288.13,612.39 289.24,612.17 290.35,611.95 291.46,611.73 292.57,611.49 293.68,611.26 294.79,611.01 295.9,610.77 297.01,610.52 298.12,610.27 299.23,610.01 300.34,609.76 301.45,609.5 302.56,609.24 303.67,608.99 304.78,608.74 305.89,608.48 307,608.23 308.11,607.99 309.22,607.75 310.33,607.51 311.44,607.27 312.55,607.05 313.66,606.83 314.77,606.61 315.88,606.4 316.99,606.21 318.1,606.01 319.21,605.83 320.32,605.66 321.43,605.5 322.54,605.34 323.65,605.2 324.76,605.07 325.87,604.95 326.98,604.84 328.09,604.74 329.2,604.65 330.31,604.58 331.42,604.52 332.53,604.47 333.64,604.43 334.75,604.41 335.86,604.4 336.97,604.4 338.08,604.42 339.19,604.45 340.3,604.49 341.41,604.54 342.52,604.61 343.63,604.68 344.74,604.78 345.85,604.88 346.96,604.99 348.07,605.12 349.18,605.25 350.29,605.4 351.4,605.56 352.51,605.72 353.62,605.9 354.73,606.09 355.84,606.28 356.95,606.48 358.06,606.69 359.17,606.91 360.28,607.13 361.39,607.36 362.5,607.6 363.61,607.84 364.72,608.08 365.83,608.33 366.94,608.58 368.05,608.83 369.16,609.09 370.27,609.34 371.38,609.6 372.49,609.86 373.6,610.11" fill="none" stroke="#c455a8" stroke-width="1.9" stroke-linejoin="round" />
<line x1="240.4" y1="541.2" x2="240.4" y2="680.5" stroke="#000" stroke-width="1.3" />
<line x1="239.8" y1="675.2" x2="374.2" y2="675.2" stroke="#000" stroke-width="1.3" />
<line x1="234.9" y1="541.8" x2="240.4" y2="541.8" stroke="#000" stroke-width="1.3" />
<line x1="237.2" y1="555.14" x2="240.4" y2="555.14" stroke="#000" stroke-width="1.3" />
<line x1="237.2" y1="568.48" x2="240.4" y2="568.48" stroke="#000" stroke-width="1.3" />
<line x1="237.2" y1="581.82" x2="240.4" y2="581.82" stroke="#000" stroke-width="1.3" />
<line x1="237.2" y1="595.16" x2="240.4" y2="595.16" stroke="#000" stroke-width="1.3" />
<line x1="234.9" y1="608.5" x2="240.4" y2="608.5" stroke="#000" stroke-width="1.3" />
<line x1="237.2" y1="621.84" x2="240.4" y2="621.84" stroke="#000" stroke-width="1.3" />
<line x1="237.2" y1="635.18" x2="240.4" y2="635.18" stroke="#000" stroke-width="1.3" />
<line x1="237.2" y1="648.52" x2="240.4" y2="648.52" stroke="#000" stroke-width="1.3" />
<line x1="237.2" y1="661.86" x2="240.4" y2="661.86" stroke="#000" stroke-width="1.3" />
<line x1="234.9" y1="675.2" x2="240.4" y2="675.2" stroke="#000" stroke-width="1.3" />
<line x1="304.1" y1="675.2" x2="304.1" y2="680.5" stroke="#000" stroke-width="1.3" />
<line x1="373.6" y1="675.2" x2="373.6" y2="680.5" stroke="#000" stroke-width="1.3" />
<text x="233.1" y="545.6" font-size="10.6" text-anchor="end" fill="#000" textLength="15.6" lengthAdjust="spacingAndGlyphs" >105</text>
<text x="233.1" y="612.3" font-size="10.6" text-anchor="end" fill="#000" textLength="15.6" lengthAdjust="spacingAndGlyphs" >100</text>
<text x="233.1" y="679" font-size="10.6" text-anchor="end" fill="#000" textLength="10.4" lengthAdjust="spacingAndGlyphs" >95</text>
<text x="240.4" y="691.9" font-size="10.2" text-anchor="middle" fill="#000" >0</text>
<text x="304.1" y="691.9" font-size="10.2" text-anchor="middle" fill="#000" >12</text>
<text x="373.6" y="691.9" font-size="10.2" text-anchor="middle" fill="#000" >24</text>
<text x="307" y="706.2" font-size="9.1" text-anchor="middle" fill="#000" >Zeitgeber Time (h)</text>
<text x="305.9" y="533.7" font-size="12.8" text-anchor="middle" fill="#000" >Cosinor</text>
<text x="199.8" y="608.5" font-size="9" text-anchor="middle" fill="#000" transform="rotate(-90 199.8 608.5)" >ISF lactate</text>
<text x="210.6" y="608.5" font-size="9" text-anchor="middle" fill="#000" transform="rotate(-90 210.6 608.5)" >(% daily average)</text>
<line x1="241.6" y1="546.5" x2="255.6" y2="546.5" stroke="#6b6b6b" stroke-width="2" />
<text x="263.6" y="548.6" font-size="7.3" text-anchor="start" fill="#333" textLength="33.7" lengthAdjust="spacingAndGlyphs" >3 mo WT</text>
<line x1="241.6" y1="556" x2="255.6" y2="556" stroke="#f39a2c" stroke-width="2" />
<text x="263.6" y="558.1" font-size="7.3" text-anchor="start" fill="#333" textLength="33.7" lengthAdjust="spacingAndGlyphs" >6 mo WT</text>
<line x1="241.6" y1="566.1" x2="255.6" y2="566.1" stroke="#c455a8" stroke-width="2" />
<text x="263.6" y="568.2" font-size="7.3" text-anchor="start" fill="#333" textLength="33.7" lengthAdjust="spacingAndGlyphs" >9 mo WT</text>
<rect x="304.16" y="748.7" width="69.44" height="133.1" fill="#e3e4e4" stroke="none" stroke-width="1" />
<line x1="240.5" y1="815.25" x2="373.6" y2="815.25" stroke="#000" stroke-width="1.7" stroke-dasharray="1.7 4.3"/>
<polyline points="240.5,826.74 241.61,827.71 242.72,828.64 243.83,829.54 244.94,830.4 246.05,831.23 247.16,832.02 248.26,832.76 249.37,833.46 250.48,834.12 251.59,834.73 252.7,835.29 253.81,835.8 254.92,836.27 256.03,836.67 257.14,837.03 258.25,837.33 259.36,837.58 260.46,837.77 261.57,837.9 262.68,837.98 263.79,838 264.9,837.96 266.01,837.87 267.12,837.72 268.23,837.52 269.34,837.26 270.45,836.95 271.56,836.58 272.67,836.16 273.77,835.68 274.88,835.16 275.99,834.59 277.1,833.96 278.21,833.3 279.32,832.58 280.43,831.83 281.54,831.03 282.65,830.19 283.76,829.32 284.87,828.41 285.98,827.47 287.09,826.5 288.19,825.5 289.3,824.48 290.41,823.43 291.52,822.37 292.63,821.28 293.74,820.19 294.85,819.08 295.96,817.96 297.07,816.83 298.18,815.71 299.29,814.58 300.39,813.45 301.5,812.33 302.61,811.22 303.72,810.11 304.83,809.02 305.94,807.95 307.05,806.9 308.16,805.87 309.27,804.86 310.38,803.88 311.49,802.93 312.6,802.01 313.71,801.12 314.81,800.27 315.92,799.46 317.03,798.69 318.14,797.96 319.25,797.27 320.36,796.63 321.47,796.04 322.58,795.5 323.69,795.01 324.8,794.57 325.91,794.18 327.01,793.85 328.12,793.57 329.23,793.34 330.34,793.17 331.45,793.06 332.56,793.01 333.67,793.01 334.78,793.06 335.89,793.18 337,793.35 338.11,793.57 339.22,793.86 340.33,794.19 341.43,794.58 342.54,795.02 343.65,795.52 344.76,796.06 345.87,796.65 346.98,797.29 348.09,797.98 349.2,798.71 350.31,799.48 351.42,800.29 352.53,801.14 353.63,802.03 354.74,802.95 355.85,803.9 356.96,804.89 358.07,805.89 359.18,806.93 360.29,807.98 361.4,809.05 362.51,810.14 363.62,811.25 364.73,812.36 365.84,813.48 366.95,814.61 368.05,815.74 369.16,816.86 370.27,817.99 371.38,819.11 372.49,820.22 373.6,821.31" fill="none" stroke="#000000" stroke-width="1.9" stroke-linejoin="round" />
<polyline points="240.5,816.94 241.61,817.57 242.72,818.2 243.83,818.82 244.94,819.42 246.05,820.02 247.16,820.61 248.26,821.18 249.37,821.73 250.48,822.27 251.59,822.79 252.7,823.29 253.81,823.77 254.92,824.22 256.03,824.66 257.14,825.07 258.25,825.45 259.36,825.81 260.46,826.14 261.57,826.44 262.68,826.71 263.79,826.96 264.9,827.17 266.01,827.36 267.12,827.51 268.23,827.63 269.34,827.72 270.45,827.77 271.56,827.8 272.67,827.79 273.77,827.75 274.88,827.68 275.99,827.58 277.1,827.44 278.21,827.27 279.32,827.08 280.43,826.85 281.54,826.59 282.65,826.3 283.76,825.99 284.87,825.65 285.98,825.28 287.09,824.88 288.19,824.46 289.3,824.02 290.41,823.55 291.52,823.06 292.63,822.55 293.74,822.02 294.85,821.48 295.96,820.92 297.07,820.34 298.18,819.75 299.29,819.15 300.39,818.53 301.5,817.91 302.61,817.28 303.72,816.65 304.83,816.01 305.94,815.37 307.05,814.73 308.16,814.09 309.27,813.45 310.38,812.81 311.49,812.18 312.6,811.56 313.71,810.94 314.81,810.34 315.92,809.75 317.03,809.17 318.14,808.61 319.25,808.06 320.36,807.53 321.47,807.01 322.58,806.52 323.69,806.05 324.8,805.6 325.91,805.18 327.01,804.78 328.12,804.41 329.23,804.06 330.34,803.74 331.45,803.45 332.56,803.19 333.67,802.96 334.78,802.75 335.89,802.58 337,802.44 338.11,802.33 339.22,802.26 340.33,802.21 341.43,802.2 342.54,802.22 343.65,802.27 344.76,802.36 345.87,802.47 346.98,802.62 348.09,802.8 349.2,803.01 350.31,803.25 351.42,803.52 352.53,803.82 353.63,804.14 354.74,804.5 355.85,804.88 356.96,805.28 358.07,805.71 359.18,806.16 360.29,806.64 361.4,807.14 362.51,807.65 363.62,808.19 364.73,808.74 365.84,809.31 366.95,809.89 368.05,810.49 369.16,811.09 370.27,811.71 371.38,812.33 372.49,812.96 373.6,813.6" fill="none" stroke="#4da3f7" stroke-width="1.9" stroke-linejoin="round" />
<polyline points="240.5,823.28 241.61,824.4 242.72,825.5 243.83,826.57 244.94,827.63 246.05,828.65 247.16,829.64 248.26,830.6 249.37,831.53 250.48,832.42 251.59,833.26 252.7,834.07 253.81,834.83 254.92,835.54 256.03,836.21 257.14,836.83 258.25,837.39 259.36,837.91 260.46,838.37 261.57,838.77 262.68,839.12 263.79,839.41 264.9,839.64 266.01,839.82 267.12,839.94 268.23,839.99 269.34,839.99 270.45,839.93 271.56,839.81 272.67,839.63 273.77,839.4 274.88,839.1 275.99,838.75 277.1,838.34 278.21,837.88 279.32,837.37 280.43,836.8 281.54,836.18 282.65,835.51 283.76,834.79 284.87,834.03 285.98,833.22 287.09,832.37 288.19,831.48 289.3,830.56 290.41,829.6 291.52,828.6 292.63,827.57 293.74,826.52 294.85,825.44 295.96,824.34 297.07,823.22 298.18,822.08 299.29,820.93 300.39,819.77 301.5,818.6 302.61,817.42 303.72,816.24 304.83,815.06 305.94,813.89 307.05,812.72 308.16,811.56 309.27,810.41 310.38,809.28 311.49,808.17 312.6,807.08 313.71,806.01 314.81,804.97 315.92,803.96 317.03,802.98 318.14,802.03 319.25,801.12 320.36,800.25 321.47,799.42 322.58,798.63 323.69,797.89 324.8,797.19 325.91,796.54 327.01,795.94 328.12,795.4 329.23,794.91 330.34,794.47 331.45,794.09 332.56,793.76 333.67,793.49 334.78,793.28 335.89,793.13 337,793.03 338.11,793 339.22,793.02 340.33,793.11 341.43,793.25 342.54,793.45 343.65,793.71 344.76,794.03 345.87,794.4 346.98,794.83 348.09,795.31 349.2,795.85 350.31,796.44 351.42,797.08 352.53,797.76 353.63,798.5 354.74,799.28 355.85,800.1 356.96,800.97 358.07,801.87 359.18,802.81 360.29,803.79 361.4,804.8 362.51,805.83 363.62,806.9 364.73,807.99 365.84,809.1 366.95,810.22 368.05,811.37 369.16,812.52 370.27,813.69 371.38,814.86 372.49,816.04 373.6,817.22" fill="none" stroke="#d9342b" stroke-width="1.9" stroke-linejoin="round" />
<line x1="240.5" y1="748.1" x2="240.5" y2="887.1" stroke="#000" stroke-width="1.3" />
<line x1="239.9" y1="881.8" x2="374.2" y2="881.8" stroke="#000" stroke-width="1.3" />
<line x1="235" y1="748.7" x2="240.5" y2="748.7" stroke="#000" stroke-width="1.3" />
<line x1="237.3" y1="762.01" x2="240.5" y2="762.01" stroke="#000" stroke-width="1.3" />
<line x1="237.3" y1="775.32" x2="240.5" y2="775.32" stroke="#000" stroke-width="1.3" />
<line x1="237.3" y1="788.63" x2="240.5" y2="788.63" stroke="#000" stroke-width="1.3" />
<line x1="237.3" y1="801.94" x2="240.5" y2="801.94" stroke="#000" stroke-width="1.3" />
<line x1="235" y1="815.25" x2="240.5" y2="815.25" stroke="#000" stroke-width="1.3" />
<line x1="237.3" y1="828.56" x2="240.5" y2="828.56" stroke="#000" stroke-width="1.3" />
<line x1="237.3" y1="841.87" x2="240.5" y2="841.87" stroke="#000" stroke-width="1.3" />
<line x1="237.3" y1="855.18" x2="240.5" y2="855.18" stroke="#000" stroke-width="1.3" />
<line x1="237.3" y1="868.49" x2="240.5" y2="868.49" stroke="#000" stroke-width="1.3" />
<line x1="235" y1="881.8" x2="240.5" y2="881.8" stroke="#000" stroke-width="1.3" />
<line x1="304.16" y1="881.8" x2="304.16" y2="887.1" stroke="#000" stroke-width="1.3" />
<line x1="373.6" y1="881.8" x2="373.6" y2="887.1" stroke="#000" stroke-width="1.3" />
<text x="233.2" y="752.5" font-size="10.6" text-anchor="end" fill="#000" textLength="15.6" lengthAdjust="spacingAndGlyphs" >105</text>
<text x="233.2" y="819.05" font-size="10.6" text-anchor="end" fill="#000" textLength="15.6" lengthAdjust="spacingAndGlyphs" >100</text>
<text x="233.2" y="885.6" font-size="10.6" text-anchor="end" fill="#000" textLength="10.4" lengthAdjust="spacingAndGlyphs" >95</text>
<text x="240.5" y="898.5" font-size="10.2" text-anchor="middle" fill="#000" >0</text>
<text x="304.16" y="898.5" font-size="10.2" text-anchor="middle" fill="#000" >12</text>
<text x="373.6" y="898.5" font-size="10.2" text-anchor="middle" fill="#000" >24</text>
<text x="307.05" y="912.8" font-size="9.1" text-anchor="middle" fill="#000" >Zeitgeber Time (h)</text>
<text x="305.9" y="737.7" font-size="12.8" text-anchor="middle" fill="#000" >Cosinor</text>
<text x="199.9" y="815.25" font-size="9" text-anchor="middle" fill="#000" transform="rotate(-90 199.9 815.25)" >ISF lactate</text>
<text x="210.7" y="815.25" font-size="9" text-anchor="middle" fill="#000" transform="rotate(-90 210.7 815.25)" >(% daily average)</text>
<line x1="241.7" y1="753.4" x2="255.7" y2="753.4" stroke="#000000" stroke-width="2" />
<text x="263.7" y="755.5" font-size="7.3" text-anchor="start" fill="#333" textLength="45.2" lengthAdjust="spacingAndGlyphs" >3 mo P301S</text>
<line x1="241.7" y1="762.9" x2="255.7" y2="762.9" stroke="#4da3f7" stroke-width="2" />
<text x="263.7" y="765" font-size="7.3" text-anchor="start" fill="#333" textLength="45.2" lengthAdjust="spacingAndGlyphs" >6 mo P301S</text>
<line x1="241.7" y1="773" x2="255.7" y2="773" stroke="#d9342b" stroke-width="2" />
<text x="263.7" y="775.1" font-size="7.3" text-anchor="start" fill="#333" textLength="45.2" lengthAdjust="spacingAndGlyphs" >9 mo P301S</text>
<line x1="432.6" y1="138" x2="432.6" y2="272.2" stroke="#000" stroke-width="1.3" />
<line x1="432" y1="271.6" x2="534.8" y2="271.6" stroke="#000" stroke-width="1.3" />
<line x1="427.1" y1="138.6" x2="432.6" y2="138.6" stroke="#000" stroke-width="1.3" />
<line x1="429.4" y1="151.9" x2="432.6" y2="151.9" stroke="#000" stroke-width="1.3" />
<line x1="429.4" y1="165.2" x2="432.6" y2="165.2" stroke="#000" stroke-width="1.3" />
<line x1="429.4" y1="178.5" x2="432.6" y2="178.5" stroke="#000" stroke-width="1.3" />
<line x1="429.4" y1="191.8" x2="432.6" y2="191.8" stroke="#000" stroke-width="1.3" />
<line x1="427.1" y1="205.1" x2="432.6" y2="205.1" stroke="#000" stroke-width="1.3" />
<line x1="429.4" y1="218.4" x2="432.6" y2="218.4" stroke="#000" stroke-width="1.3" />
<line x1="429.4" y1="231.7" x2="432.6" y2="231.7" stroke="#000" stroke-width="1.3" />
<line x1="429.4" y1="245" x2="432.6" y2="245" stroke="#000" stroke-width="1.3" />
<line x1="429.4" y1="258.3" x2="432.6" y2="258.3" stroke="#000" stroke-width="1.3" />
<line x1="427.1" y1="271.6" x2="432.6" y2="271.6" stroke="#000" stroke-width="1.3" />
<line x1="447.9" y1="271.6" x2="447.9" y2="276.9" stroke="#000" stroke-width="1.3" />
<line x1="483.3" y1="271.6" x2="483.3" y2="276.9" stroke="#000" stroke-width="1.3" />
<line x1="518.9" y1="271.6" x2="518.9" y2="276.9" stroke="#000" stroke-width="1.3" />
<text x="425.3" y="142.4" font-size="10.6" text-anchor="end" fill="#000" textLength="15.6" lengthAdjust="spacingAndGlyphs" >105</text>
<text x="425.3" y="208.9" font-size="10.6" text-anchor="end" fill="#000" textLength="15.6" lengthAdjust="spacingAndGlyphs" >100</text>
<text x="425.3" y="275.4" font-size="10.6" text-anchor="end" fill="#000" textLength="10.4" lengthAdjust="spacingAndGlyphs" >95</text>
<text x="447.9" y="287.5" font-size="9.7" text-anchor="middle" fill="#000" >3 mo</text>
<text x="483.3" y="287.5" font-size="9.7" text-anchor="middle" fill="#000" >6 mo</text>
<text x="518.9" y="287.5" font-size="9.7" text-anchor="middle" fill="#000" >9 mo</text>
<text x="485.4" y="129.7" font-size="13.5" text-anchor="middle" fill="#000" >Light vs Dark</text>
<text x="392" y="205.1" font-size="9" text-anchor="middle" fill="#000" transform="rotate(-90 392 205.1)" >ISF glucose</text>
<text x="402.8" y="205.1" font-size="9" text-anchor="middle" fill="#000" transform="rotate(-90 402.8 205.1)" >(% daily average)</text>
<path d="M441.3 205.3 V159.3 H454.8 V166.8" fill="none" stroke="#4a4a4a" stroke-width="0.8" />
<path d="M445.15 149V154M442.99 150.25L447.32 152.75M442.99 152.75L447.32 150.25M450.45 149V154M448.29 150.25L452.62 152.75M448.29 152.75L452.62 150.25" stroke="#000" stroke-width="1.1" fill="none"/>
<circle cx="445.15" cy="151.5" r="0.7" fill="#000"/>
<circle cx="450.45" cy="151.5" r="0.7" fill="#000"/>
<path d="M476.7 201 V159.3 H490.7 V170.3" fill="none" stroke="#4a4a4a" stroke-width="0.8" />
<path d="M483.3 149V154M481.13 150.25L485.47 152.75M481.13 152.75L485.47 150.25" stroke="#000" stroke-width="1.1" fill="none"/>
<circle cx="483.3" cy="151.5" r="0.7" fill="#000"/>
<line x1="441.5" y1="214.2" x2="441.5" y2="229.6" stroke="#000" stroke-width="1.2" />
<circle cx="441.5" cy="221.9" r="4.2" fill="#a5a7a9" stroke="#000" stroke-width="1"/>
<line x1="454.7" y1="175.4" x2="454.7" y2="191.2" stroke="#000" stroke-width="1.2" />
<rect x="450.7" y="179.3" width="8" height="8" fill="#5f6060" stroke="#000" stroke-width="1" />
<line x1="476.9" y1="208.9" x2="476.9" y2="226.9" stroke="#000" stroke-width="1.2" />
<circle cx="476.9" cy="217.9" r="4.2" fill="#f5c27f" stroke="#000" stroke-width="1"/>
<line x1="490.3" y1="179.1" x2="490.3" y2="197.5" stroke="#000" stroke-width="1.2" />
<rect x="486.3" y="184.3" width="8" height="8" fill="#f4841e" stroke="#000" stroke-width="1" />
<circle cx="512.3" cy="204.3" r="4.2" fill="#dea0d2" stroke="#000" stroke-width="1"/>
<rect x="521.8" y="204.2" width="8" height="8" fill="#b84595" stroke="#000" stroke-width="1" />
<circle cx="500" cy="252.5" r="4.2" fill="#fff" stroke="#000" stroke-width="1"/>
<rect x="495.8" y="260.5" width="8.4" height="8.4" fill="#fff" stroke="#000" stroke-width="1" />
<text x="514.8" y="255.7" font-size="9" text-anchor="start" fill="#222" >Light</text>
<text x="514.8" y="267.9" font-size="9" text-anchor="start" fill="#222" >Dark</text>
<line x1="432.9" y1="337.4" x2="432.9" y2="470.8" stroke="#000" stroke-width="1.3" />
<line x1="432.3" y1="470.2" x2="534.8" y2="470.2" stroke="#000" stroke-width="1.3" />
<line x1="427.4" y1="338" x2="432.9" y2="338" stroke="#000" stroke-width="1.3" />
<line x1="429.7" y1="351.22" x2="432.9" y2="351.22" stroke="#000" stroke-width="1.3" />
<line x1="429.7" y1="364.44" x2="432.9" y2="364.44" stroke="#000" stroke-width="1.3" />
<line x1="429.7" y1="377.66" x2="432.9" y2="377.66" stroke="#000" stroke-width="1.3" />
<line x1="429.7" y1="390.88" x2="432.9" y2="390.88" stroke="#000" stroke-width="1.3" />
<line x1="427.4" y1="404.1" x2="432.9" y2="404.1" stroke="#000" stroke-width="1.3" />
<line x1="429.7" y1="417.32" x2="432.9" y2="417.32" stroke="#000" stroke-width="1.3" />
<line x1="429.7" y1="430.54" x2="432.9" y2="430.54" stroke="#000" stroke-width="1.3" />
<line x1="429.7" y1="443.76" x2="432.9" y2="443.76" stroke="#000" stroke-width="1.3" />
<line x1="429.7" y1="456.98" x2="432.9" y2="456.98" stroke="#000" stroke-width="1.3" />
<line x1="427.4" y1="470.2" x2="432.9" y2="470.2" stroke="#000" stroke-width="1.3" />
<line x1="448.3" y1="470.2" x2="448.3" y2="475.5" stroke="#000" stroke-width="1.3" />
<line x1="483.7" y1="470.2" x2="483.7" y2="475.5" stroke="#000" stroke-width="1.3" />
<line x1="519.4" y1="470.2" x2="519.4" y2="475.5" stroke="#000" stroke-width="1.3" />
<text x="425.6" y="341.8" font-size="10.6" text-anchor="end" fill="#000" textLength="15.6" lengthAdjust="spacingAndGlyphs" >105</text>
<text x="425.6" y="407.9" font-size="10.6" text-anchor="end" fill="#000" textLength="15.6" lengthAdjust="spacingAndGlyphs" >100</text>
<text x="425.6" y="474" font-size="10.6" text-anchor="end" fill="#000" textLength="10.4" lengthAdjust="spacingAndGlyphs" >95</text>
<text x="448.3" y="486.1" font-size="9.7" text-anchor="middle" fill="#000" >3 mo</text>
<text x="483.7" y="486.1" font-size="9.7" text-anchor="middle" fill="#000" >6 mo</text>
<text x="519.4" y="486.1" font-size="9.7" text-anchor="middle" fill="#000" >9 mo</text>
<text x="485.4" y="329.1" font-size="13.5" text-anchor="middle" fill="#000" >Light vs Dark</text>
<text x="392.3" y="404.1" font-size="9" text-anchor="middle" fill="#000" transform="rotate(-90 392.3 404.1)" >ISF glucose</text>
<text x="403.1" y="404.1" font-size="9" text-anchor="middle" fill="#000" transform="rotate(-90 403.1 404.1)" >(% daily average)</text>
<path d="M441.6 403.6 V366.3 H455.1 V381.3" fill="none" stroke="#4a4a4a" stroke-width="0.8" />
<path d="M445.15 356V361M442.99 357.25L447.32 359.75M442.99 359.75L447.32 357.25M450.45 356V361M448.29 357.25L452.62 359.75M448.29 359.75L452.62 357.25" stroke="#000" stroke-width="1.1" fill="none"/>
<circle cx="445.15" cy="358.5" r="0.7" fill="#000"/>
<circle cx="450.45" cy="358.5" r="0.7" fill="#000"/>
<path d="M477 402.4 V366.3 H490.7 V373.8" fill="none" stroke="#4a4a4a" stroke-width="0.8" />
<path d="M475.35 356V361M473.19 357.25L477.52 359.75M473.19 359.75L477.52 357.25M480.65 356V361M478.49 357.25L482.82 359.75M478.49 359.75L482.82 357.25M485.95 356V361M483.79 357.25L488.12 359.75M483.79 359.75L488.12 357.25M491.25 356V361M489.08 357.25L493.42 359.75M489.08 359.75L493.42 357.25" stroke="#000" stroke-width="1.1" fill="none"/>
<circle cx="475.35" cy="358.5" r="0.7" fill="#000"/>
<circle cx="480.65" cy="358.5" r="0.7" fill="#000"/>
<circle cx="485.95" cy="358.5" r="0.7" fill="#000"/>
<circle cx="491.25" cy="358.5" r="0.7" fill="#000"/>
<path d="M512.6 403.6 V366.3 H526.1 V384.3" fill="none" stroke="#4a4a4a" stroke-width="0.8" />
<path d="M516.05 356V361M513.89 357.25L518.22 359.75M513.89 359.75L518.22 357.25M521.35 356V361M519.19 357.25L523.51 359.75M519.19 359.75L523.51 357.25" stroke="#000" stroke-width="1.1" fill="none"/>
<circle cx="516.05" cy="358.5" r="0.7" fill="#000"/>
<circle cx="521.35" cy="358.5" r="0.7" fill="#000"/>
<circle cx="441.6" cy="416.4" r="4.2" fill="#d3d3d3" stroke="#000" stroke-width="1"/>
<rect x="451.1" y="388.5" width="8" height="8" fill="#0a0a0a" stroke="#000" stroke-width="1" />
<line x1="477" y1="411.7" x2="477" y2="421.7" stroke="#000" stroke-width="1.2" />
<circle cx="477" cy="416.7" r="4.2" fill="#78b6f3" stroke="#000" stroke-width="1"/>
<rect x="486.7" y="382.6" width="8" height="8" fill="#3a7fe0" stroke="#000" stroke-width="1" />
<circle cx="512.6" cy="414.1" r="4.2" fill="#f07a7a" stroke="#000" stroke-width="1"/>
<rect x="522.1" y="390.8" width="8" height="8" fill="#cc3325" stroke="#000" stroke-width="1" />
<circle cx="497.7" cy="451.1" r="4.2" fill="#fff" stroke="#000" stroke-width="1"/>
<rect x="493.5" y="459.1" width="8.4" height="8.4" fill="#fff" stroke="#000" stroke-width="1" />
<text x="512.5" y="454.3" font-size="9" text-anchor="start" fill="#222" >Light</text>
<text x="512.5" y="466.5" font-size="9" text-anchor="start" fill="#222" >Dark</text>
<line x1="434.1" y1="541" x2="434.1" y2="675.6" stroke="#000" stroke-width="1.3" />
<line x1="433.5" y1="675" x2="536.2" y2="675" stroke="#000" stroke-width="1.3" />
<line x1="428.6" y1="541.6" x2="434.1" y2="541.6" stroke="#000" stroke-width="1.3" />
<line x1="430.9" y1="554.94" x2="434.1" y2="554.94" stroke="#000" stroke-width="1.3" />
<line x1="430.9" y1="568.28" x2="434.1" y2="568.28" stroke="#000" stroke-width="1.3" />
<line x1="430.9" y1="581.62" x2="434.1" y2="581.62" stroke="#000" stroke-width="1.3" />
<line x1="430.9" y1="594.96" x2="434.1" y2="594.96" stroke="#000" stroke-width="1.3" />
<line x1="428.6" y1="608.3" x2="434.1" y2="608.3" stroke="#000" stroke-width="1.3" />
<line x1="430.9" y1="621.64" x2="434.1" y2="621.64" stroke="#000" stroke-width="1.3" />
<line x1="430.9" y1="634.98" x2="434.1" y2="634.98" stroke="#000" stroke-width="1.3" />
<line x1="430.9" y1="648.32" x2="434.1" y2="648.32" stroke="#000" stroke-width="1.3" />
<line x1="430.9" y1="661.66" x2="434.1" y2="661.66" stroke="#000" stroke-width="1.3" />
<line x1="428.6" y1="675" x2="434.1" y2="675" stroke="#000" stroke-width="1.3" />
<line x1="450.1" y1="675" x2="450.1" y2="680.3" stroke="#000" stroke-width="1.3" />
<line x1="485.4" y1="675" x2="485.4" y2="680.3" stroke="#000" stroke-width="1.3" />
<line x1="521" y1="675" x2="521" y2="680.3" stroke="#000" stroke-width="1.3" />
<text x="426.8" y="545.4" font-size="10.6" text-anchor="end" fill="#000" textLength="15.6" lengthAdjust="spacingAndGlyphs" >105</text>
<text x="426.8" y="612.1" font-size="10.6" text-anchor="end" fill="#000" textLength="15.6" lengthAdjust="spacingAndGlyphs" >100</text>
<text x="426.8" y="678.8" font-size="10.6" text-anchor="end" fill="#000" textLength="10.4" lengthAdjust="spacingAndGlyphs" >95</text>
<text x="450.1" y="690.9" font-size="9.7" text-anchor="middle" fill="#000" >3 mo</text>
<text x="485.4" y="690.9" font-size="9.7" text-anchor="middle" fill="#000" >6 mo</text>
<text x="521" y="690.9" font-size="9.7" text-anchor="middle" fill="#000" >9 mo</text>
<text x="489.6" y="533.6" font-size="12.8" text-anchor="middle" fill="#000" >Light vs Dark</text>
<text x="393.5" y="608.3" font-size="9" text-anchor="middle" fill="#000" transform="rotate(-90 393.5 608.3)" >ISF lactate</text>
<text x="404.3" y="608.3" font-size="9" text-anchor="middle" fill="#000" transform="rotate(-90 404.3 608.3)" >(% daily average)</text>
<path d="M443 614.8 V566.6 H456.5 V574.2" fill="none" stroke="#4a4a4a" stroke-width="0.8" />
<path d="M441.55 556.3V561.3M439.38 557.55L443.72 560.05M439.38 560.05L443.72 557.55M446.85 556.3V561.3M444.69 557.55L449.02 560.05M444.69 560.05L449.02 557.55M452.15 556.3V561.3M449.99 557.55L454.32 560.05M449.99 560.05L454.32 557.55M457.45 556.3V561.3M455.28 557.55L459.62 560.05M455.28 560.05L459.62 557.55" stroke="#000" stroke-width="1.1" fill="none"/>
<circle cx="441.55" cy="558.8" r="0.7" fill="#000"/>
<circle cx="446.85" cy="558.8" r="0.7" fill="#000"/>
<circle cx="452.15" cy="558.8" r="0.7" fill="#000"/>
<circle cx="457.45" cy="558.8" r="0.7" fill="#000"/>
<path d="M478.4 611.8 V566.6 H492.4 V576.8" fill="none" stroke="#4a4a4a" stroke-width="0.8" />
<path d="M479.8 556.3V561.3M477.63 557.55L481.97 560.05M477.63 560.05L481.97 557.55M485.1 556.3V561.3M482.94 557.55L487.27 560.05M482.94 560.05L487.27 557.55M490.4 556.3V561.3M488.24 557.55L492.57 560.05M488.24 560.05L492.57 557.55" stroke="#000" stroke-width="1.1" fill="none"/>
<circle cx="479.8" cy="558.8" r="0.7" fill="#000"/>
<circle cx="485.1" cy="558.8" r="0.7" fill="#000"/>
<circle cx="490.4" cy="558.8" r="0.7" fill="#000"/>
<line x1="443.4" y1="624.5" x2="443.4" y2="633.5" stroke="#000" stroke-width="1.2" />
<circle cx="443.4" cy="629" r="4.2" fill="#a5a7a9" stroke="#000" stroke-width="1"/>
<line x1="456.5" y1="583.7" x2="456.5" y2="592.7" stroke="#000" stroke-width="1.2" />
<rect x="452.5" y="584.2" width="8" height="8" fill="#5f6060" stroke="#000" stroke-width="1" />
<circle cx="478.8" cy="624.5" r="4.2" fill="#f5c27f" stroke="#000" stroke-width="1"/>
<line x1="492.4" y1="586.1" x2="492.4" y2="599.1" stroke="#000" stroke-width="1.2" />
<rect x="488.4" y="588.6" width="8" height="8" fill="#f4841e" stroke="#000" stroke-width="1" />
<circle cx="514.7" cy="612.7" r="4.2" fill="#dea0d2" stroke="#000" stroke-width="1"/>
<rect x="523.8" y="602.2" width="8" height="8" fill="#b84595" stroke="#000" stroke-width="1" />
<circle cx="500.9" cy="655.9" r="4.2" fill="#fff" stroke="#000" stroke-width="1"/>
<rect x="496.7" y="663.9" width="8.4" height="8.4" fill="#fff" stroke="#000" stroke-width="1" />
<text x="515.7" y="659.1" font-size="9" text-anchor="start" fill="#222" >Light</text>
<text x="515.7" y="671.3" font-size="9" text-anchor="start" fill="#222" >Dark</text>
<line x1="434.1" y1="747.8" x2="434.1" y2="882.5" stroke="#000" stroke-width="1.3" />
<line x1="433.5" y1="881.9" x2="536.2" y2="881.9" stroke="#000" stroke-width="1.3" />
<line x1="428.6" y1="748.4" x2="434.1" y2="748.4" stroke="#000" stroke-width="1.3" />
<line x1="430.9" y1="761.75" x2="434.1" y2="761.75" stroke="#000" stroke-width="1.3" />
<line x1="430.9" y1="775.1" x2="434.1" y2="775.1" stroke="#000" stroke-width="1.3" />
<line x1="430.9" y1="788.45" x2="434.1" y2="788.45" stroke="#000" stroke-width="1.3" />
<line x1="430.9" y1="801.8" x2="434.1" y2="801.8" stroke="#000" stroke-width="1.3" />
<line x1="428.6" y1="815.15" x2="434.1" y2="815.15" stroke="#000" stroke-width="1.3" />
<line x1="430.9" y1="828.5" x2="434.1" y2="828.5" stroke="#000" stroke-width="1.3" />
<line x1="430.9" y1="841.85" x2="434.1" y2="841.85" stroke="#000" stroke-width="1.3" />
<line x1="430.9" y1="855.2" x2="434.1" y2="855.2" stroke="#000" stroke-width="1.3" />
<line x1="430.9" y1="868.55" x2="434.1" y2="868.55" stroke="#000" stroke-width="1.3" />
<line x1="428.6" y1="881.9" x2="434.1" y2="881.9" stroke="#000" stroke-width="1.3" />
<line x1="450.1" y1="881.9" x2="450.1" y2="887.2" stroke="#000" stroke-width="1.3" />
<line x1="485.4" y1="881.9" x2="485.4" y2="887.2" stroke="#000" stroke-width="1.3" />
<line x1="521" y1="881.9" x2="521" y2="887.2" stroke="#000" stroke-width="1.3" />
<text x="426.8" y="752.2" font-size="10.6" text-anchor="end" fill="#000" textLength="15.6" lengthAdjust="spacingAndGlyphs" >105</text>
<text x="426.8" y="818.95" font-size="10.6" text-anchor="end" fill="#000" textLength="15.6" lengthAdjust="spacingAndGlyphs" >100</text>
<text x="426.8" y="885.7" font-size="10.6" text-anchor="end" fill="#000" textLength="10.4" lengthAdjust="spacingAndGlyphs" >95</text>
<text x="450.1" y="897.8" font-size="9.7" text-anchor="middle" fill="#000" >3 mo</text>
<text x="485.4" y="897.8" font-size="9.7" text-anchor="middle" fill="#000" >6 mo</text>
<text x="521" y="897.8" font-size="9.7" text-anchor="middle" fill="#000" >9 mo</text>
<text x="489.6" y="738.6" font-size="12.8" text-anchor="middle" fill="#000" >Light vs Dark</text>
<text x="393.5" y="815.15" font-size="9" text-anchor="middle" fill="#000" transform="rotate(-90 393.5 815.15)" >ISF lactate</text>
<text x="404.3" y="815.15" font-size="9" text-anchor="middle" fill="#000" transform="rotate(-90 404.3 815.15)" >(% daily average)</text>
<path d="M443 816.2 V781.2 H456.9 V789.1" fill="none" stroke="#4a4a4a" stroke-width="0.8" />
<path d="M446.85 770.9V775.9M444.69 772.15L449.02 774.65M444.69 774.65L449.02 772.15M452.15 770.9V775.9M449.99 772.15L454.32 774.65M449.99 774.65L454.32 772.15" stroke="#000" stroke-width="1.1" fill="none"/>
<circle cx="446.85" cy="773.4" r="0.7" fill="#000"/>
<circle cx="452.15" cy="773.4" r="0.7" fill="#000"/>
<path d="M478.8 812.2 V781.2 H492.4 V794.7" fill="none" stroke="#4a4a4a" stroke-width="0.8" />
<path d="M485.4 770.9V775.9M483.23 772.15L487.56 774.65M483.23 774.65L487.56 772.15" stroke="#000" stroke-width="1.1" fill="none"/>
<circle cx="485.4" cy="773.4" r="0.7" fill="#000"/>
<path d="M514.3 819.2 V781.2 H528 V789.1" fill="none" stroke="#4a4a4a" stroke-width="0.8" />
<path d="M513.05 770.9V775.9M510.88 772.15L515.21 774.65M510.88 774.65L515.21 772.15M518.35 770.9V775.9M516.18 772.15L520.51 774.65M516.18 774.65L520.51 772.15M523.65 770.9V775.9M521.49 772.15L525.81 774.65M521.49 774.65L525.81 772.15M528.95 770.9V775.9M526.78 772.15L531.11 774.65M526.78 774.65L531.11 772.15" stroke="#000" stroke-width="1.1" fill="none"/>
<circle cx="513.05" cy="773.4" r="0.7" fill="#000"/>
<circle cx="518.35" cy="773.4" r="0.7" fill="#000"/>
<circle cx="523.65" cy="773.4" r="0.7" fill="#000"/>
<circle cx="528.95" cy="773.4" r="0.7" fill="#000"/>
<line x1="443.4" y1="825.3" x2="443.4" y2="833.3" stroke="#000" stroke-width="1.2" />
<circle cx="443.4" cy="829.3" r="4.2" fill="#d3d3d3" stroke="#000" stroke-width="1"/>
<line x1="456.5" y1="798.2" x2="456.5" y2="806.2" stroke="#000" stroke-width="1.2" />
<rect x="452.5" y="798.2" width="8" height="8" fill="#2a2a2a" stroke="#000" stroke-width="1" />
<circle cx="479" cy="824.1" r="4.2" fill="#78b6f3" stroke="#000" stroke-width="1"/>
<rect x="488.4" y="804" width="8" height="8" fill="#3a7fe0" stroke="#000" stroke-width="1" />
<circle cx="514.7" cy="832" r="4.2" fill="#f07a7a" stroke="#000" stroke-width="1"/>
<rect x="523.8" y="797.8" width="8" height="8" fill="#cc3325" stroke="#000" stroke-width="1" />
<circle cx="502.6" cy="862.8" r="4.2" fill="#fff" stroke="#000" stroke-width="1"/>
<rect x="498.4" y="870.8" width="8.4" height="8.4" fill="#fff" stroke="#000" stroke-width="1" />
<text x="517.4" y="866" font-size="9" text-anchor="start" fill="#222" >Light</text>
<text x="517.4" y="878.2" font-size="9" text-anchor="start" fill="#222" >Dark</text>
<line x1="607.05" y1="181.7" x2="607.05" y2="166.28" stroke="#444" stroke-width="0.9" />
<line x1="604.65" y1="166.28" x2="609.45" y2="166.28" stroke="#444" stroke-width="0.9" />
<line x1="617.15" y1="211.23" x2="617.15" y2="204.62" stroke="#444" stroke-width="0.9" />
<line x1="614.75" y1="204.62" x2="619.55" y2="204.62" stroke="#444" stroke-width="0.9" />
<line x1="633.5" y1="196.25" x2="633.5" y2="185.23" stroke="#444" stroke-width="0.9" />
<line x1="631.1" y1="185.23" x2="635.9" y2="185.23" stroke="#444" stroke-width="0.9" />
<line x1="643.6" y1="195.36" x2="643.6" y2="186.11" stroke="#444" stroke-width="0.9" />
<line x1="641.2" y1="186.11" x2="646" y2="186.11" stroke="#444" stroke-width="0.9" />
<line x1="660.1" y1="258.38" x2="660.1" y2="253.53" stroke="#444" stroke-width="0.9" />
<line x1="657.7" y1="253.53" x2="662.5" y2="253.53" stroke="#444" stroke-width="0.9" />
<line x1="670" y1="227.09" x2="670" y2="220.04" stroke="#444" stroke-width="0.9" />
<line x1="667.6" y1="220.04" x2="672.4" y2="220.04" stroke="#444" stroke-width="0.9" />
<rect x="602.4" y="181.7" width="9.3" height="89.9" fill="#7f7f7f" stroke="#000" stroke-width="1.5" />
<rect x="611.7" y="211.23" width="10.9" height="60.37" fill="#2e2e2e" stroke="#000" stroke-width="1.5" />
<rect x="628.6" y="196.25" width="9.8" height="75.35" fill="#e8ad30" stroke="#000" stroke-width="1.5" />
<rect x="638.4" y="195.36" width="10.4" height="76.24" fill="#4c9cf7" stroke="#000" stroke-width="1.5" />
<rect x="655.4" y="258.38" width="9.4" height="13.22" fill="#c97ab6" stroke="#000" stroke-width="1.5" />
<rect x="664.8" y="227.09" width="10.4" height="44.51" fill="#d9352b" stroke="#000" stroke-width="1.5" />
<line x1="596.3" y1="138.8" x2="596.3" y2="272.2" stroke="#000" stroke-width="1.4" />
<line x1="595.7" y1="271.6" x2="681.5" y2="271.6" stroke="#000" stroke-width="1.4" />
<line x1="591" y1="271.6" x2="596.3" y2="271.6" stroke="#000" stroke-width="1.4" />
<text x="589" y="275.2" font-size="10" text-anchor="end" fill="#000" >0</text>
<line x1="591" y1="227.53" x2="596.3" y2="227.53" stroke="#000" stroke-width="1.4" />
<text x="589" y="231.13" font-size="10" text-anchor="end" fill="#000" >1</text>
<line x1="591" y1="183.47" x2="596.3" y2="183.47" stroke="#000" stroke-width="1.4" />
<text x="589" y="187.07" font-size="10" text-anchor="end" fill="#000" >2</text>
<line x1="591" y1="139.4" x2="596.3" y2="139.4" stroke="#000" stroke-width="1.4" />
<text x="589" y="143" font-size="10" text-anchor="end" fill="#000" >3</text>
<line x1="611.8" y1="271.6" x2="611.8" y2="276.9" stroke="#000" stroke-width="1.4" />
<line x1="638.4" y1="271.6" x2="638.4" y2="276.9" stroke="#000" stroke-width="1.4" />
<line x1="664.9" y1="271.6" x2="664.9" y2="276.9" stroke="#000" stroke-width="1.4" />
<text x="615.6" y="285.6" font-size="9.5" text-anchor="end" fill="#000" transform="rotate(-45 615.6 285.6)" >3 mo</text>
<text x="642.2" y="285.6" font-size="9.5" text-anchor="end" fill="#000" transform="rotate(-45 642.2 285.6)" >6 mo</text>
<text x="668.7" y="285.6" font-size="9.5" text-anchor="end" fill="#000" transform="rotate(-45 668.7 285.6)" >9 mo</text>
<text x="578.3" y="206" font-size="9.9" text-anchor="middle" fill="#000" transform="rotate(-90 578.3 206)" >Glucose Amplitude</text>
<path d="M606.6 143.6 L606.6 134.4 L659.6 134.4 L659.6 143.6" fill="none" stroke="#555" stroke-width="0.85" />
<path d="M623.5 123.6V128.6M621.34 124.85L625.66 127.35M621.34 127.35L625.66 124.85M629.9 123.6V128.6M627.74 124.85L632.06 127.35M627.74 127.35L632.06 124.85M636.3 123.6V128.6M634.13 124.85L638.46 127.35M634.13 127.35L638.46 124.85M642.7 123.6V128.6M640.54 124.85L644.87 127.35M640.54 127.35L644.87 124.85" stroke="#000" stroke-width="1.1" fill="none"/>
<circle cx="623.5" cy="126.1" r="0.7" fill="#000"/>
<circle cx="629.9" cy="126.1" r="0.7" fill="#000"/>
<circle cx="636.3" cy="126.1" r="0.7" fill="#000"/>
<circle cx="642.7" cy="126.1" r="0.7" fill="#000"/>
<path d="M606.6 160 L606.6 155.7 L617.6 155.7 L617.6 202.1" fill="none" stroke="#555" stroke-width="0.85" />
<path d="M612.1 145.1V150.1M609.94 146.35L614.26 148.85M609.94 148.85L614.26 146.35" stroke="#000" stroke-width="1.1" fill="none"/>
<circle cx="612.1" cy="147.6" r="0.7" fill="#000"/>
<path d="M643.4 161.1 L643.4 157.2 L670.5 157.2 L670.5 188.3" fill="none" stroke="#555" stroke-width="0.85" />
<path d="M656.8 146.4V151.4M654.63 147.65L658.96 150.15M654.63 150.15L658.96 147.65" stroke="#000" stroke-width="1.1" fill="none"/>
<circle cx="656.8" cy="148.9" r="0.7" fill="#000"/>
<path d="M633.1 184.4 L633.1 174.2 L657 174.2 L657 250.2" fill="none" stroke="#555" stroke-width="0.85" />
<path d="M638.5 163.5V168.5M636.34 164.75L640.66 167.25M636.34 167.25L640.66 164.75M644.9 163.5V168.5M642.74 164.75L647.06 167.25M642.74 167.25L647.06 164.75M651.3 163.5V168.5M649.13 164.75L653.46 167.25M649.13 167.25L653.46 164.75" stroke="#000" stroke-width="1.1" fill="none"/>
<circle cx="638.5" cy="166" r="0.7" fill="#000"/>
<circle cx="644.9" cy="166" r="0.7" fill="#000"/>
<circle cx="651.3" cy="166" r="0.7" fill="#000"/>
<path d="M662.5 250.2 L662.5 205.2 L670.8 205.2 L670.8 217.1" fill="none" stroke="#555" stroke-width="0.85" />
<path d="M666.3 194.3V199.3M664.13 195.55L668.46 198.05M664.13 198.05L668.46 195.55" stroke="#000" stroke-width="1.1" fill="none"/>
<circle cx="666.3" cy="196.8" r="0.7" fill="#000"/>
<line x1="608.7" y1="582.27" x2="608.7" y2="571.64" stroke="#444" stroke-width="0.9" />
<line x1="606.3" y1="571.64" x2="611.1" y2="571.64" stroke="#444" stroke-width="0.9" />
<line x1="619.05" y1="602.2" x2="619.05" y2="595.12" stroke="#444" stroke-width="0.9" />
<line x1="616.65" y1="595.12" x2="621.45" y2="595.12" stroke="#444" stroke-width="0.9" />
<line x1="635.45" y1="596.89" x2="635.45" y2="587.14" stroke="#444" stroke-width="0.9" />
<line x1="633.05" y1="587.14" x2="637.85" y2="587.14" stroke="#444" stroke-width="0.9" />
<line x1="645.55" y1="634.54" x2="645.55" y2="627.46" stroke="#444" stroke-width="0.9" />
<line x1="643.15" y1="627.46" x2="647.95" y2="627.46" stroke="#444" stroke-width="0.9" />
<line x1="662.15" y1="659.35" x2="662.15" y2="654.04" stroke="#444" stroke-width="0.9" />
<line x1="659.75" y1="654.04" x2="664.55" y2="654.04" stroke="#444" stroke-width="0.9" />
<line x1="672.1" y1="598.66" x2="672.1" y2="590.24" stroke="#444" stroke-width="0.9" />
<line x1="669.7" y1="590.24" x2="674.5" y2="590.24" stroke="#444" stroke-width="0.9" />
<rect x="603.9" y="582.27" width="9.6" height="93.03" fill="#7f7f7f" stroke="#000" stroke-width="1.5" />
<rect x="613.5" y="602.2" width="11.1" height="73.1" fill="#2e2e2e" stroke="#000" stroke-width="1.5" />
<rect x="630.6" y="596.89" width="9.7" height="78.41" fill="#e8ad30" stroke="#000" stroke-width="1.5" />
<rect x="640.3" y="634.54" width="10.5" height="40.76" fill="#4c9cf7" stroke="#000" stroke-width="1.5" />
<rect x="657.5" y="659.35" width="9.3" height="15.95" fill="#c97ab6" stroke="#000" stroke-width="1.5" />
<rect x="666.8" y="598.66" width="10.6" height="76.64" fill="#d9352b" stroke="#000" stroke-width="1.5" />
<line x1="598.4" y1="541.8" x2="598.4" y2="675.9" stroke="#000" stroke-width="1.4" />
<line x1="597.8" y1="675.3" x2="683.4" y2="675.3" stroke="#000" stroke-width="1.4" />
<line x1="593.1" y1="675.3" x2="598.4" y2="675.3" stroke="#000" stroke-width="1.4" />
<text x="591.1" y="678.9" font-size="10" text-anchor="end" fill="#000" >0</text>
<line x1="593.1" y1="631" x2="598.4" y2="631" stroke="#000" stroke-width="1.4" />
<text x="591.1" y="634.6" font-size="10" text-anchor="end" fill="#000" >1</text>
<line x1="593.1" y1="586.7" x2="598.4" y2="586.7" stroke="#000" stroke-width="1.4" />
<text x="591.1" y="590.3" font-size="10" text-anchor="end" fill="#000" >2</text>
<line x1="593.1" y1="542.4" x2="598.4" y2="542.4" stroke="#000" stroke-width="1.4" />
<text x="591.1" y="546" font-size="10" text-anchor="end" fill="#000" >3</text>
<line x1="613.5" y1="675.3" x2="613.5" y2="680.6" stroke="#000" stroke-width="1.4" />
<line x1="640.3" y1="675.3" x2="640.3" y2="680.6" stroke="#000" stroke-width="1.4" />
<line x1="666.9" y1="675.3" x2="666.9" y2="680.6" stroke="#000" stroke-width="1.4" />
<text x="617.3" y="689.3" font-size="9.5" text-anchor="end" fill="#000" transform="rotate(-45 617.3 689.3)" >3 mo</text>
<text x="644.1" y="689.3" font-size="9.5" text-anchor="end" fill="#000" transform="rotate(-45 644.1 689.3)" >6 mo</text>
<text x="670.7" y="689.3" font-size="9.5" text-anchor="end" fill="#000" transform="rotate(-45 670.7 689.3)" >9 mo</text>
<text x="580" y="609.4" font-size="9.9" text-anchor="middle" fill="#000" transform="rotate(-90 580 609.4)" >Lactate Amplitude</text>
<path d="M608.1 570.3 L608.1 537.2 L661.7 537.2 L661.7 540.8" fill="none" stroke="#555" stroke-width="0.85" />
<path d="M627.15 529.7V533.9M625.33 530.75L628.97 532.85M625.33 532.85L628.97 530.75M632.45 529.7V533.9M630.63 530.75L634.27 532.85M630.63 532.85L634.27 530.75M637.75 529.7V533.9M635.93 530.75L639.57 532.85M635.93 532.85L639.57 530.75M643.05 529.7V533.9M641.23 530.75L644.87 532.85M641.23 532.85L644.87 530.75" stroke="#000" stroke-width="0.92" fill="none"/>
<circle cx="627.15" cy="531.8" r="0.59" fill="#000"/>
<circle cx="632.45" cy="531.8" r="0.59" fill="#000"/>
<circle cx="637.75" cy="531.8" r="0.59" fill="#000"/>
<circle cx="643.05" cy="531.8" r="0.59" fill="#000"/>
<path d="M619 594 L619 550.4 L643.6 550.4 L643.6 556.8" fill="none" stroke="#555" stroke-width="0.85" />
<path d="M631.1 542.9V547.1M629.28 543.95L632.92 546.05M629.28 546.05L632.92 543.95" stroke="#000" stroke-width="0.92" fill="none"/>
<circle cx="631.1" cy="545" r="0.59" fill="#000"/>
<path d="M648.2 556.8 L648.2 550.4 L672.5 550.4 L672.5 573.6" fill="none" stroke="#555" stroke-width="0.85" />
<path d="M657.35 542.9V547.1M655.53 543.95L659.17 546.05M655.53 546.05L659.17 543.95M662.65 542.9V547.1M660.83 543.95L664.47 546.05M660.83 546.05L664.47 543.95" stroke="#000" stroke-width="0.92" fill="none"/>
<circle cx="657.35" cy="545" r="0.59" fill="#000"/>
<circle cx="662.65" cy="545" r="0.59" fill="#000"/>
<path d="M635.5 569.7 L635.5 565.5 L662 565.5 L662 571.6" fill="none" stroke="#555" stroke-width="0.85" />
<path d="M640.25 558.1V562.3M638.43 559.15L642.07 561.25M638.43 561.25L642.07 559.15M645.55 558.1V562.3M643.73 559.15L647.37 561.25M643.73 561.25L647.37 559.15M650.85 558.1V562.3M649.03 559.15L652.67 561.25M649.03 561.25L652.67 559.15M656.15 558.1V562.3M654.33 559.15L657.97 561.25M654.33 561.25L657.97 559.15" stroke="#000" stroke-width="0.92" fill="none"/>
<circle cx="640.25" cy="560.2" r="0.59" fill="#000"/>
<circle cx="645.55" cy="560.2" r="0.59" fill="#000"/>
<circle cx="650.85" cy="560.2" r="0.59" fill="#000"/>
<circle cx="656.15" cy="560.2" r="0.59" fill="#000"/>
<path d="M635.5 586.1 L635.5 577.6 L645.6 577.6 L645.6 626.5" fill="none" stroke="#555" stroke-width="0.85" />
<path d="M637.65 569.8V574M635.83 570.85L639.47 572.95M635.83 572.95L639.47 570.85M642.95 569.8V574M641.13 570.85L644.77 572.95M641.13 572.95L644.77 570.85" stroke="#000" stroke-width="0.92" fill="none"/>
<circle cx="637.65" cy="571.9" r="0.59" fill="#000"/>
<circle cx="642.95" cy="571.9" r="0.59" fill="#000"/>
<path d="M661.4 653 L661.4 584.8 L672.5 584.8 L672.5 589.4" fill="none" stroke="#555" stroke-width="0.85" />
<path d="M658.65 576.8V581M656.83 577.85L660.47 579.95M656.83 579.95L660.47 577.85M663.95 576.8V581M662.13 577.85L665.77 579.95M662.13 579.95L665.77 577.85M669.25 576.8V581M667.43 577.85L671.07 579.95M667.43 579.95L671.07 577.85M674.55 576.8V581M672.73 577.85L676.37 579.95M672.73 579.95L676.37 577.85" stroke="#000" stroke-width="0.92" fill="none"/>
<circle cx="658.65" cy="578.9" r="0.59" fill="#000"/>
<circle cx="663.95" cy="578.9" r="0.59" fill="#000"/>
<circle cx="669.25" cy="578.9" r="0.59" fill="#000"/>
<circle cx="674.55" cy="578.9" r="0.59" fill="#000"/>
<line x1="608.95" y1="789" x2="608.95" y2="783.24" stroke="#444" stroke-width="0.9" />
<line x1="606.55" y1="783.24" x2="611.35" y2="783.24" stroke="#444" stroke-width="0.9" />
<line x1="619.15" y1="802.3" x2="619.15" y2="797.42" stroke="#444" stroke-width="0.9" />
<line x1="616.75" y1="797.42" x2="621.55" y2="797.42" stroke="#444" stroke-width="0.9" />
<line x1="635.65" y1="803.63" x2="635.65" y2="797.42" stroke="#444" stroke-width="0.9" />
<line x1="633.25" y1="797.42" x2="638.05" y2="797.42" stroke="#444" stroke-width="0.9" />
<line x1="645.9" y1="819.15" x2="645.9" y2="811.17" stroke="#444" stroke-width="0.9" />
<line x1="643.5" y1="811.17" x2="648.3" y2="811.17" stroke="#444" stroke-width="0.9" />
<line x1="662.15" y1="866.14" x2="662.15" y2="851.95" stroke="#444" stroke-width="0.9" />
<line x1="659.75" y1="851.95" x2="664.55" y2="851.95" stroke="#444" stroke-width="0.9" />
<line x1="672.15" y1="813.38" x2="672.15" y2="808.51" stroke="#444" stroke-width="0.9" />
<line x1="669.75" y1="808.51" x2="674.55" y2="808.51" stroke="#444" stroke-width="0.9" />
<rect x="604.2" y="789" width="9.5" height="93.1" fill="#7f7f7f" stroke="#000" stroke-width="1.5" />
<rect x="613.7" y="802.3" width="10.9" height="79.8" fill="#2e2e2e" stroke="#000" stroke-width="1.5" />
<rect x="630.7" y="803.63" width="9.9" height="78.47" fill="#e8ad30" stroke="#000" stroke-width="1.5" />
<rect x="640.6" y="819.15" width="10.6" height="62.95" fill="#4c9cf7" stroke="#000" stroke-width="1.5" />
<rect x="657.5" y="866.14" width="9.3" height="15.96" fill="#c97ab6" stroke="#000" stroke-width="1.5" />
<rect x="666.8" y="813.38" width="10.7" height="68.72" fill="#d9352b" stroke="#000" stroke-width="1.5" />
<line x1="598.4" y1="748.5" x2="598.4" y2="882.7" stroke="#000" stroke-width="1.4" />
<line x1="597.8" y1="882.1" x2="683.4" y2="882.1" stroke="#000" stroke-width="1.4" />
<line x1="593.1" y1="882.1" x2="598.4" y2="882.1" stroke="#000" stroke-width="1.4" />
<text x="591.1" y="885.7" font-size="10" text-anchor="end" fill="#000" >0</text>
<line x1="593.1" y1="837.77" x2="598.4" y2="837.77" stroke="#000" stroke-width="1.4" />
<text x="591.1" y="841.37" font-size="10" text-anchor="end" fill="#000" >1</text>
<line x1="593.1" y1="793.43" x2="598.4" y2="793.43" stroke="#000" stroke-width="1.4" />
<text x="591.1" y="797.03" font-size="10" text-anchor="end" fill="#000" >2</text>
<line x1="593.1" y1="749.1" x2="598.4" y2="749.1" stroke="#000" stroke-width="1.4" />
<text x="591.1" y="752.7" font-size="10" text-anchor="end" fill="#000" >3</text>
<line x1="613.5" y1="882.1" x2="613.5" y2="887.4" stroke="#000" stroke-width="1.4" />
<line x1="640.3" y1="882.1" x2="640.3" y2="887.4" stroke="#000" stroke-width="1.4" />
<line x1="666.9" y1="882.1" x2="666.9" y2="887.4" stroke="#000" stroke-width="1.4" />
<text x="617.3" y="896.1" font-size="9.5" text-anchor="end" fill="#000" transform="rotate(-45 617.3 896.1)" >3 mo</text>
<text x="644.1" y="896.1" font-size="9.5" text-anchor="end" fill="#000" transform="rotate(-45 644.1 896.1)" >6 mo</text>
<text x="670.7" y="896.1" font-size="9.5" text-anchor="end" fill="#000" transform="rotate(-45 670.7 896.1)" >9 mo</text>
<text x="580" y="815.5" font-size="9.9" text-anchor="middle" fill="#000" transform="rotate(-90 580 815.5)" >Lactate Phase Shift</text>
<path d="M608.8 780.7 L608.8 759.4 L662.3 759.4 L662.3 781.4" fill="none" stroke="#555" stroke-width="0.85" />
<path d="M627 749.65V753.95M625.14 750.72L628.86 752.88M625.14 752.88L628.86 750.72M632.4 749.65V753.95M630.54 750.72L634.26 752.88M630.54 752.88L634.26 750.72M637.8 749.65V753.95M635.94 750.72L639.66 752.88M635.94 752.88L639.66 750.72M643.2 749.65V753.95M641.34 750.72L645.06 752.88M641.34 752.88L645.06 750.72" stroke="#000" stroke-width="0.95" fill="none"/>
<circle cx="627" cy="751.8" r="0.6" fill="#000"/>
<circle cx="632.4" cy="751.8" r="0.6" fill="#000"/>
<circle cx="637.8" cy="751.8" r="0.6" fill="#000"/>
<circle cx="643.2" cy="751.8" r="0.6" fill="#000"/>
<path d="M635.5 793.9 L635.5 775.9 L662.3 775.9" fill="none" stroke="#555" stroke-width="0.85" />
<path d="M640.4 765.85V770.15M638.54 766.92L642.26 769.08M638.54 769.08L642.26 766.92M645.8 765.85V770.15M643.94 766.92L647.66 769.08M643.94 769.08L647.66 766.92M651.2 765.85V770.15M649.34 766.92L653.06 769.08M649.34 769.08L653.06 766.92M656.6 765.85V770.15M654.74 766.92L658.46 769.08M654.74 769.08L658.46 766.92" stroke="#000" stroke-width="0.95" fill="none"/>
<circle cx="640.4" cy="768" r="0.6" fill="#000"/>
<circle cx="645.8" cy="768" r="0.6" fill="#000"/>
<circle cx="651.2" cy="768" r="0.6" fill="#000"/>
<circle cx="656.6" cy="768" r="0.6" fill="#000"/>
<path d="M662.3 850 L662.3 794.1 L672.5 794.1 L672.5 804.4" fill="none" stroke="#555" stroke-width="0.85" />
<path d="M658.5 784.25V788.55M656.64 785.32L660.36 787.48M656.64 787.48L660.36 785.32M663.9 784.25V788.55M662.04 785.32L665.76 787.48M662.04 787.48L665.76 785.32M669.3 784.25V788.55M667.44 785.32L671.16 787.48M667.44 787.48L671.16 785.32M674.7 784.25V788.55M672.84 785.32L676.56 787.48M672.84 787.48L676.56 785.32" stroke="#000" stroke-width="0.95" fill="none"/>
<circle cx="658.5" cy="786.4" r="0.6" fill="#000"/>
<circle cx="663.9" cy="786.4" r="0.6" fill="#000"/>
<circle cx="669.3" cy="786.4" r="0.6" fill="#000"/>
<circle cx="674.7" cy="786.4" r="0.6" fill="#000"/>
<line x1="607.2" y1="428.51" x2="607.2" y2="424.15" stroke="#444" stroke-width="0.9" />
<line x1="604.8" y1="424.15" x2="609.6" y2="424.15" stroke="#444" stroke-width="0.9" />
<line x1="617.25" y1="423.18" x2="617.25" y2="420.03" stroke="#444" stroke-width="0.9" />
<line x1="614.85" y1="420.03" x2="619.65" y2="420.03" stroke="#444" stroke-width="0.9" />
<line x1="633.7" y1="426.82" x2="633.7" y2="421.25" stroke="#444" stroke-width="0.9" />
<line x1="631.3" y1="421.25" x2="636.1" y2="421.25" stroke="#444" stroke-width="0.9" />
<line x1="643.8" y1="438.94" x2="643.8" y2="436.27" stroke="#444" stroke-width="0.9" />
<line x1="641.4" y1="436.27" x2="646.2" y2="436.27" stroke="#444" stroke-width="0.9" />
<line x1="659.95" y1="375.04" x2="659.95" y2="368.15" stroke="#444" stroke-width="0.9" />
<line x1="657.55" y1="368.15" x2="662.35" y2="368.15" stroke="#444" stroke-width="0.9" />
<line x1="669.95" y1="439.18" x2="669.95" y2="435.3" stroke="#444" stroke-width="0.9" />
<line x1="667.55" y1="435.3" x2="672.35" y2="435.3" stroke="#444" stroke-width="0.9" />
<rect x="602.5" y="428.51" width="9.4" height="39.99" fill="#7f7f7f" stroke="#000" stroke-width="1.5" />
<rect x="611.9" y="423.18" width="10.7" height="45.32" fill="#2e2e2e" stroke="#000" stroke-width="1.5" />
<rect x="628.8" y="426.82" width="9.8" height="41.68" fill="#e8ad30" stroke="#000" stroke-width="1.5" />
<rect x="638.6" y="438.94" width="10.4" height="29.56" fill="#4c9cf7" stroke="#000" stroke-width="1.5" />
<rect x="655.3" y="395.8" width="9.3" height="72.7" fill="#c97ab6" stroke="none" stroke-width="1" />
<path d="M655.3 395.8 V468.5 H664.6 V395.8" fill="none" stroke="#000" stroke-width="1.5" />
<rect x="655.3" y="375.04" width="9.3" height="10.66" fill="#c97ab6" stroke="none" stroke-width="1" />
<path d="M655.3 385.7 V375.04 H664.6 V385.7" fill="none" stroke="#000" stroke-width="1.5" />
<rect x="664.6" y="439.18" width="10.7" height="29.32" fill="#d9352b" stroke="#000" stroke-width="1.5" />
<line x1="596.7" y1="335.9" x2="596.7" y2="385.7" stroke="#000" stroke-width="1.4" />
<line x1="596.7" y1="395.8" x2="596.7" y2="469.1" stroke="#000" stroke-width="1.4" />
<line x1="596.1" y1="468.5" x2="681.8" y2="468.5" stroke="#000" stroke-width="1.4" />
<line x1="591.4" y1="468.5" x2="596.7" y2="468.5" stroke="#000" stroke-width="1.4" />
<text x="589.4" y="472.1" font-size="10" text-anchor="end" fill="#000" >0</text>
<line x1="591.4" y1="444.27" x2="596.7" y2="444.27" stroke="#000" stroke-width="1.4" />
<text x="589.4" y="447.87" font-size="10" text-anchor="end" fill="#000" >1</text>
<line x1="591.4" y1="420.03" x2="596.7" y2="420.03" stroke="#000" stroke-width="1.4" />
<text x="589.4" y="423.63" font-size="10" text-anchor="end" fill="#000" >2</text>
<text x="589.4" y="399.4" font-size="10" text-anchor="end" fill="#000" >3</text>
<text x="589.4" y="389.3" font-size="10" text-anchor="end" fill="#000" >7</text>
<line x1="591.4" y1="369.3" x2="596.7" y2="369.3" stroke="#000" stroke-width="1.4" />
<text x="589.4" y="372.9" font-size="10" text-anchor="end" fill="#000" >8</text>
<line x1="591.4" y1="352.9" x2="596.7" y2="352.9" stroke="#000" stroke-width="1.4" />
<text x="589.4" y="356.5" font-size="10" text-anchor="end" fill="#000" >9</text>
<line x1="591.4" y1="336.5" x2="596.7" y2="336.5" stroke="#000" stroke-width="1.4" />
<text x="589.4" y="340.1" font-size="10" text-anchor="end" fill="#000" >10</text>
<line x1="594.5" y1="385.7" x2="600.1" y2="385.7" stroke="#000" stroke-width="1.4" />
<line x1="594.5" y1="395.8" x2="600.3" y2="395.8" stroke="#000" stroke-width="1.4" />
<line x1="612" y1="468.5" x2="612" y2="473.8" stroke="#000" stroke-width="1.4" />
<line x1="638.6" y1="468.5" x2="638.6" y2="473.8" stroke="#000" stroke-width="1.4" />
<line x1="664.9" y1="468.5" x2="664.9" y2="473.8" stroke="#000" stroke-width="1.4" />
<text x="615.8" y="482.5" font-size="9.5" text-anchor="end" fill="#000" transform="rotate(-45 615.8 482.5)" >3 mo</text>
<text x="642.4" y="482.5" font-size="9.5" text-anchor="end" fill="#000" transform="rotate(-45 642.4 482.5)" >6 mo</text>
<text x="668.7" y="482.5" font-size="9.5" text-anchor="end" fill="#000" transform="rotate(-45 668.7 482.5)" >9 mo</text>
<text x="573.3" y="403.1" font-size="9.8" text-anchor="middle" fill="#000" transform="rotate(-90 573.3 403.1)" >Glucose Phase Shift</text>
<path d="M607.1 424.6 L607.1 332.2 L659.6 332.2 L659.6 339.1" fill="none" stroke="#555" stroke-width="0.85" />
<path d="M625.75 325.95V330.05M623.97 326.98L627.53 329.02M623.97 329.02L627.53 326.98M630.65 325.95V330.05M628.87 326.98L632.43 329.02M628.87 329.02L632.43 326.98M635.55 325.95V330.05M633.77 326.98L637.33 329.02M633.77 329.02L637.33 326.98M640.45 325.95V330.05M638.67 326.98L642.23 329.02M638.67 329.02L642.23 326.98" stroke="#000" stroke-width="0.9" fill="none"/>
<circle cx="625.75" cy="328" r="0.57" fill="#000"/>
<circle cx="630.65" cy="328" r="0.57" fill="#000"/>
<circle cx="635.55" cy="328" r="0.57" fill="#000"/>
<circle cx="640.45" cy="328" r="0.57" fill="#000"/>
<path d="M617.3 418.8 L617.3 342.8 L670.5 342.8 L670.5 355.5" fill="none" stroke="#555" stroke-width="0.85" />
<path d="M643.6 335.95V340.05M641.82 336.98L645.38 339.02M641.82 339.02L645.38 336.98" stroke="#000" stroke-width="0.9" fill="none"/>
<circle cx="643.6" cy="338" r="0.57" fill="#000"/>
<path d="M633.4 384.8 L633.4 352.9 L659.6 352.9 L659.6 355.9" fill="none" stroke="#555" stroke-width="0.85" />
<path d="M638.85 345.95V350.05M637.07 346.98L640.63 349.02M637.07 349.02L640.63 346.98M643.75 345.95V350.05M641.97 346.98L645.53 349.02M641.97 349.02L645.53 346.98M648.65 345.95V350.05M646.87 346.98L650.43 349.02M646.87 349.02L650.43 346.98M653.55 345.95V350.05M651.77 346.98L655.33 349.02M651.77 349.02L655.33 346.98" stroke="#000" stroke-width="0.9" fill="none"/>
<circle cx="638.85" cy="348" r="0.57" fill="#000"/>
<circle cx="643.75" cy="348" r="0.57" fill="#000"/>
<circle cx="648.65" cy="348" r="0.57" fill="#000"/>
<circle cx="653.55" cy="348" r="0.57" fill="#000"/>
<path d="M659.6 368.2 L659.6 364.7 L670.5 364.7 L670.5 435.3" fill="none" stroke="#555" stroke-width="0.85" />
<path d="M657.25 358.05V362.15M655.47 359.08L659.03 361.12M655.47 361.12L659.03 359.08M662.15 358.05V362.15M660.37 359.08L663.93 361.12M660.37 361.12L663.93 359.08M667.05 358.05V362.15M665.27 359.08L668.83 361.12M665.27 361.12L668.83 359.08M671.95 358.05V362.15M670.17 359.08L673.73 361.12M670.17 361.12L673.73 359.08" stroke="#000" stroke-width="0.9" fill="none"/>
<circle cx="657.25" cy="360.1" r="0.57" fill="#000"/>
<circle cx="662.15" cy="360.1" r="0.57" fill="#000"/>
<circle cx="667.05" cy="360.1" r="0.57" fill="#000"/>
<circle cx="671.95" cy="360.1" r="0.57" fill="#000"/>
<path d="M617.3 405.4 L644.3 405.4 L644.3 435.7" fill="none" stroke="#555" stroke-width="0.85" />
<path d="M630.5 398.75V402.85M628.72 399.78L632.28 401.82M628.72 401.82L632.28 399.78" stroke="#000" stroke-width="0.9" fill="none"/>
<circle cx="630.5" cy="400.8" r="0.57" fill="#000"/>
<rect x="333.4" y="31.6" width="27.2" height="13.1" fill="#7b7b7b" stroke="#000" stroke-width="1" />
<text x="365.2" y="40.6" font-size="12.3" text-anchor="start" fill="#111" textLength="52.3" lengthAdjust="spacingAndGlyphs" stroke="#111" stroke-width="0.25">3 mo WT</text>
<rect x="449.4" y="31.6" width="27.2" height="13.1" fill="#e8ae33" stroke="#000" stroke-width="1" />
<text x="481.2" y="40.6" font-size="12.3" text-anchor="start" fill="#111" textLength="51.3" lengthAdjust="spacingAndGlyphs" stroke="#111" stroke-width="0.25">6 mo WT</text>
<rect x="562.7" y="31.6" width="27.2" height="13.1" fill="#c87ab6" stroke="#000" stroke-width="1" />
<text x="594.5" y="40.6" font-size="12.3" text-anchor="start" fill="#111" textLength="51.8" lengthAdjust="spacingAndGlyphs" stroke="#111" stroke-width="0.25">9 mo WT</text>
<rect x="333.4" y="61.6" width="27.2" height="13.1" fill="#111111" stroke="#000" stroke-width="1" />
<text x="365.2" y="70.6" font-size="12.3" text-anchor="start" fill="#111" textLength="71.5" lengthAdjust="spacingAndGlyphs" stroke="#111" stroke-width="0.25">3 mo P301S</text>
<rect x="449.4" y="61.6" width="27.2" height="13.1" fill="#4c9cf7" stroke="#000" stroke-width="1" />
<text x="481.2" y="70.6" font-size="12.3" text-anchor="start" fill="#111" textLength="72.3" lengthAdjust="spacingAndGlyphs" stroke="#111" stroke-width="0.25">6 mo P301S</text>
<rect x="562.7" y="61.6" width="27.2" height="13.1" fill="#d9352b" stroke="#000" stroke-width="1" />
<text x="594.5" y="70.6" font-size="12.3" text-anchor="start" fill="#111" textLength="70.7" lengthAdjust="spacingAndGlyphs" stroke="#111" stroke-width="0.25">9 mo P301S</text>
<defs><linearGradient id="hg" x1="0.1" y1="0.1" x2="1" y2="0.75"><stop offset="0" stop-color="#eaeaea"/><stop offset="0.5" stop-color="#ececec"/><stop offset="0.8" stop-color="#f4f4f4"/><stop offset="1" stop-color="#ffffff"/></linearGradient><linearGradient id="hs" x1="0" y1="0" x2="1" y2="0.35"><stop offset="0" stop-color="#c4c4c4"/><stop offset="0.6" stop-color="#cfcfcf"/><stop offset="0.8" stop-color="#f2f2f2"/><stop offset="1" stop-color="#ffffff"/></linearGradient></defs>
<path d="M75 34.5 C77.5 29.5 83 25.8 88.5 25.2 C92.5 24.9 94.6 26.8 92.8 29.8 C91 32.6 88.5 34.2 86 34.8 Z" fill="#e4e4e4" stroke="#d6d6d6" stroke-width="0.5" />
<path d="M25.4 61 C26.5 57.5 29.5 54.6 33 52.5 C40 48 50 44 60 40.5 C68 38 76 36 84 35.2 C92 34.5 100 35.5 106 39.5 C110 43 113 50 113.5 58 C114 72 110 90 104 106 L91 106 C88.5 98 85.5 91 81 86.8 C76 84 68 82 60 79.4 C50 76 40 71.5 32 66.5 C28.5 64.3 25.5 63 25.4 61 Z" fill="url(#hg)" stroke="url(#hs)" stroke-width="0.7" />
<path d="M25.2 60.8 C25.5 59 26.8 58 28 58.4 C28.8 59.8 28.8 62.8 27.8 64 C26.4 64 25.2 62.6 25.2 60.8 Z" fill="#b5b5b5" stroke="none" stroke-width="1" />
<line x1="32.7" y1="52.6" x2="23" y2="39.3" stroke="#d8d8d8" stroke-width="0.45" />
<line x1="33.5" y1="52.5" x2="27.8" y2="38.3" stroke="#d8d8d8" stroke-width="0.45" />
<line x1="32" y1="53.5" x2="21" y2="43" stroke="#d8d8d8" stroke-width="0.45" />
<line x1="31" y1="63.6" x2="55" y2="90.5" stroke="#d8d8d8" stroke-width="0.45" />
<line x1="32" y1="63.4" x2="63" y2="84.2" stroke="#d8d8d8" stroke-width="0.45" />
<line x1="30.5" y1="64" x2="50" y2="93" stroke="#d8d8d8" stroke-width="0.45" />
<line x1="33" y1="63.2" x2="70" y2="80.5" stroke="#d8d8d8" stroke-width="0.45" />
<path d="M28 64 C40 70 56 76 70 80.5 C76 82.5 80 84.5 82.5 87.5" fill="none" stroke="#d0d0d0" stroke-width="0.5" />
<path d="M91.9 39.3 C94 38 96 37.7 97.7 37.9 C100.5 38.2 102.5 38.7 103.6 39.7 C105.3 41 106 42.5 105.8 44.1 C105.9 46.5 105.8 48.5 105.4 50.7 C104.8 53 104 55 102.8 56.5 C101.5 58.5 100 60 98.5 60.9 C96.5 61.8 94.5 61.9 92.6 61.6 C90 61.2 87.5 60.5 86.1 59.4 C84.8 58.4 84.1 57.4 84.2 56.5 C84.4 55.5 85 55 85.7 54.3 C86.8 53 87.5 52 87.9 50.7 C88.5 49 88.8 47.2 89 45.5 C89.2 43.5 89.6 42.2 90.1 41.2 C90.6 40.3 91.2 39.7 91.9 39.3 Z" fill="#c9c9c9" stroke="#a9a9a9" stroke-width="0.6" />
<path d="M91 41.5 C90 45 89.8 49 88.6 52.5 C87.8 54.5 86.8 56 86 57.5" fill="none" stroke="#ebebeb" stroke-width="1.3" />
<path d="M96.5 41.8 C95 45 94 49 92.8 53.6" fill="none" stroke="#b4b4b4" stroke-width="0.7" />
<path d="M47.9 48.1 C48.5 44.5 53 41.5 58 40 C63 38.6 68 38.6 72 39.5 C74 37.5 77 36.3 80 36.3 C83.5 36.3 86.5 38 87.4 41 C87.8 42.5 87.7 43.5 87.5 44.3 L93.5 45.2 C95 45.6 95.8 46.4 94.8 47.1 C93 47.8 89.5 47.6 87.5 47.6 C86 49.5 83 50.7 79.5 51 C76 52 72 53.8 67 54.4 C62 55 57 54.5 53.5 53 C50 51.6 47.5 50.2 47.9 48.1 Z" fill="#d2a1a1" stroke="#c69595" stroke-width="0.4" />
<path d="M76.5 37.3 C75.3 41 75.8 46.5 78.2 51.2" fill="none" stroke="#c08b8b" stroke-width="0.5" />
<ellipse cx="57.6" cy="55.1" rx="4.3" ry="3.3" fill="#d6d6d6"/>
<ellipse cx="57.6" cy="55" rx="3.3" ry="2.6" fill="#666"/>
<ellipse cx="56.8" cy="54.3" rx="1.3" ry="1.0" fill="#858585"/>
<line x1="66.4" y1="30.5" x2="66.4" y2="44.5" stroke="#a0a0a0" stroke-width="0.6" />
<line x1="70.9" y1="34.5" x2="70.9" y2="49" stroke="#a0a0a0" stroke-width="0.6" />
<rect x="65.6" y="20.2" width="1.6" height="10.6" fill="#5a5f63" stroke="#8c9094" stroke-width="0.4" />
<rect x="70.1" y="23.2" width="1.6" height="11.4" fill="#5a5f63" stroke="#8c9094" stroke-width="0.4" />
<path d="M76.8 8.2 L60 8.0 C57.5 8.2 57.5 9.8 60 11 C63 12.4 66.4 12.8 66.4 16 L66.4 20.4" fill="none" stroke="#de3b3b" stroke-width="1.15" />
<path d="M83.8 17.3 L81.3 16.9 C79.8 17 79.2 19.2 77.8 20.8 C76.3 22.4 74.6 21 73.4 19.5 C72.2 18 70.5 17.2 70.3 18.8 L70.9 23.4" fill="none" stroke="#6c2fe0" stroke-width="1.2" />
<text x="78.4" y="12.3" font-size="8" text-anchor="start" fill="#222" textLength="41.3" lengthAdjust="spacingAndGlyphs" stroke="#222" stroke-width="0.15">ISF Glucose</text>
<text x="85.6" y="22.8" font-size="8" text-anchor="start" fill="#222" textLength="38.8" lengthAdjust="spacingAndGlyphs" stroke="#222" stroke-width="0.15">ISF Lactate</text>
<rect x="175.3" y="20.9" width="33.3" height="62.1" fill="#e5e6e6" stroke="none" stroke-width="1" />
<path d="M139.1 53.3 C139.58 54.57 140.73 58.08 142 60.9 C143.27 63.72 145.23 67.77 146.7 70.2 C148.17 72.63 149.43 74.33 150.8 75.5 C152.17 76.67 153.55 77.15 154.9 77.2 C156.25 77.25 157.35 77.15 158.9 75.8 C160.45 74.45 162.35 71.98 164.2 69.1 C166.05 66.22 168.15 62.02 170 58.5 C171.85 54.98 173.35 51.68 175.3 48 C177.25 44.32 179.65 39.55 181.7 36.4 C183.75 33.25 185.88 30.57 187.6 29.1 C189.32 27.63 190.45 27.57 192 27.6 C193.55 27.63 195.2 27.83 196.9 29.3 C198.6 30.77 200.65 33.47 202.2 36.4 C203.75 39.33 205.03 43.45 206.2 46.9 C207.37 50.35 208.7 55.4 209.2 57.1" fill="none" stroke="#a11d1f" stroke-width="2.3" stroke-linecap="round"/>
<line x1="137.6" y1="20.4" x2="137.6" y2="87.6" stroke="#000" stroke-width="1.3" />
<line x1="137" y1="83" x2="209.2" y2="83" stroke="#000" stroke-width="1.3" />
<line x1="175.3" y1="83" x2="175.3" y2="87.6" stroke="#000" stroke-width="1.3" />
<line x1="208.6" y1="83" x2="208.6" y2="87.6" stroke="#000" stroke-width="1.3" />
<text x="137.6" y="99" font-size="11.9" text-anchor="middle" fill="#111" stroke="#111" stroke-width="0.3">0</text>
<text x="175.3" y="99" font-size="11.9" text-anchor="middle" fill="#111" stroke="#111" stroke-width="0.3">12</text>
<text x="208.6" y="99" font-size="11.9" text-anchor="middle" fill="#111" stroke="#111" stroke-width="0.3">24</text>
<text x="176.3" y="108.6" font-size="7.8" text-anchor="middle" fill="#444" >ZT</text>
<text x="132.6" y="51.7" font-size="8.4" text-anchor="middle" fill="#222" transform="rotate(-90 132.6 51.7)" stroke="#222" stroke-width="0.15">ISF Glucose</text>
<rect x="268" y="20.9" width="32.9" height="61.7" fill="#e5e6e6" stroke="none" stroke-width="1" />
<path d="M231.7 53.1 C232.18 54.37 233.33 57.88 234.6 60.7 C235.87 63.52 237.83 67.57 239.3 70 C240.77 72.43 242.03 74.13 243.4 75.3 C244.77 76.47 246.15 76.95 247.5 77 C248.85 77.05 249.95 76.95 251.5 75.6 C253.05 74.25 254.95 71.78 256.8 68.9 C258.65 66.02 260.75 61.82 262.6 58.3 C264.45 54.78 265.95 51.48 267.9 47.8 C269.85 44.12 272.25 39.35 274.3 36.2 C276.35 33.05 278.48 30.37 280.2 28.9 C281.92 27.43 283.05 27.37 284.6 27.4 C286.15 27.43 287.8 27.63 289.5 29.1 C291.2 30.57 293.25 33.27 294.8 36.2 C296.35 39.13 297.63 43.25 298.8 46.7 C299.97 50.15 301.3 55.2 301.8 56.9" fill="none" stroke="#5a2a99" stroke-width="2.3" stroke-linecap="round"/>
<line x1="230.7" y1="20.4" x2="230.7" y2="87.2" stroke="#000" stroke-width="1.3" />
<line x1="230.1" y1="82.6" x2="301.5" y2="82.6" stroke="#000" stroke-width="1.3" />
<line x1="268" y1="82.6" x2="268" y2="87.2" stroke="#000" stroke-width="1.3" />
<line x1="300.9" y1="82.6" x2="300.9" y2="87.2" stroke="#000" stroke-width="1.3" />
<text x="230.7" y="98.6" font-size="11.9" text-anchor="middle" fill="#111" stroke="#111" stroke-width="0.3">0</text>
<text x="268" y="98.6" font-size="11.9" text-anchor="middle" fill="#111" stroke="#111" stroke-width="0.3">12</text>
<text x="300.9" y="98.6" font-size="11.9" text-anchor="middle" fill="#111" stroke="#111" stroke-width="0.3">24</text>
<text x="269" y="108.2" font-size="7.8" text-anchor="middle" fill="#444" >ZT</text>
<text x="225.7" y="51.5" font-size="8.4" text-anchor="middle" fill="#222" transform="rotate(-90 225.7 51.5)" stroke="#222" stroke-width="0.15">ISF Lactate</text>
</svg>
</body></html>
